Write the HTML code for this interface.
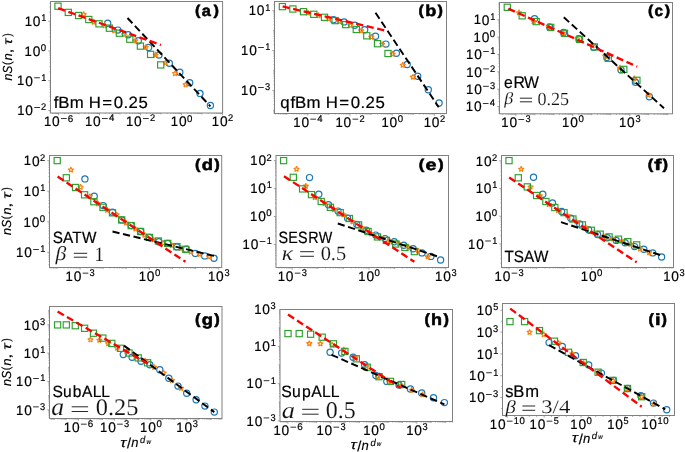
<!DOCTYPE html>
<html><head><meta charset="utf-8"><style>
html,body{margin:0;padding:0;background:#fff;}
body{width:685px;height:452px;overflow:hidden;}
svg{display:block;}
.t{opacity:0.999;}
text{white-space:pre;text-rendering:geometricPrecision;}
</style></head><body>
<svg xmlns="http://www.w3.org/2000/svg" width="685" height="452" viewBox="0 0 685 452" style="will-change:transform">
<rect x="0" y="0" width="685" height="452" fill="#fff"/>
<svg x="50.5" y="1.5" width="172.1" height="111.5" viewBox="50.5 1.5 172.1 111.5" overflow="hidden">
<g fill="none" stroke="#1f77b4" stroke-width="1.2"><circle cx="107.70" cy="23.30" r="3.10"/><circle cx="117.90" cy="30.10" r="3.10"/><circle cx="128.20" cy="34.80" r="3.10"/><circle cx="138.30" cy="40.70" r="3.10"/><circle cx="148.60" cy="47.40" r="3.10"/><circle cx="159.00" cy="55.10" r="3.10"/><circle cx="169.30" cy="63.20" r="3.10"/><circle cx="179.80" cy="72.30" r="3.10"/><circle cx="189.70" cy="82.80" r="3.10"/><circle cx="200.00" cy="93.40" r="3.10"/><circle cx="210.40" cy="105.50" r="3.10"/></g>
<g fill="none" stroke="#ff7f0e" stroke-width="1.15" stroke-linejoin="bevel"><polygon points="83.70,11.48 84.41,13.41 86.46,13.48 84.84,14.75 85.40,16.72 83.70,15.58 82.00,16.72 82.56,14.75 80.94,13.48 82.99,13.41"/><polygon points="93.90,19.18 94.61,21.11 96.66,21.18 95.04,22.45 95.60,24.42 93.90,23.28 92.20,24.42 92.76,22.45 91.14,21.18 93.19,21.11"/><polygon points="104.60,22.78 105.31,24.71 107.36,24.78 105.74,26.05 106.30,28.02 104.60,26.88 102.90,28.02 103.46,26.05 101.84,24.78 103.89,24.71"/><polygon points="114.30,27.68 115.01,29.61 117.06,29.68 115.44,30.95 116.00,32.92 114.30,31.78 112.60,32.92 113.16,30.95 111.54,29.68 113.59,29.61"/><polygon points="124.20,31.78 124.91,33.71 126.96,33.78 125.34,35.05 125.90,37.02 124.20,35.88 122.50,37.02 123.06,35.05 121.44,33.78 123.49,33.71"/><polygon points="135.30,37.88 136.01,39.81 138.06,39.88 136.44,41.15 137.00,43.12 135.30,41.98 133.60,43.12 134.16,41.15 132.54,39.88 134.59,39.81"/><polygon points="145.80,44.38 146.51,46.31 148.56,46.38 146.94,47.65 147.50,49.62 145.80,48.48 144.10,49.62 144.66,47.65 143.04,46.38 145.09,46.31"/><polygon points="155.70,51.98 156.41,53.91 158.46,53.98 156.84,55.25 157.40,57.22 155.70,56.08 154.00,57.22 154.56,55.25 152.94,53.98 154.99,53.91"/><polygon points="165.70,59.78 166.41,61.71 168.46,61.78 166.84,63.05 167.40,65.02 165.70,63.88 164.00,65.02 164.56,63.05 162.94,61.78 164.99,61.71"/><polygon points="175.10,70.58 175.81,72.51 177.86,72.58 176.24,73.85 176.80,75.82 175.10,74.68 173.40,75.82 173.96,73.85 172.34,72.58 174.39,72.51"/><polygon points="185.60,81.78 186.31,83.71 188.36,83.78 186.74,85.05 187.30,87.02 185.60,85.88 183.90,87.02 184.46,85.05 182.84,83.78 184.89,83.71"/></g>
<g fill="none" stroke="#2ca02c" stroke-width="1.15"><rect x="54.90" y="3.10" width="6.20" height="6.20"/><rect x="65.20" y="9.30" width="6.20" height="6.20"/><rect x="75.50" y="12.40" width="6.20" height="6.20"/><rect x="85.70" y="16.40" width="6.20" height="6.20"/><rect x="95.90" y="20.70" width="6.20" height="6.20"/><rect x="106.30" y="25.10" width="6.20" height="6.20"/><rect x="116.30" y="30.10" width="6.20" height="6.20"/><rect x="126.70" y="36.10" width="6.20" height="6.20"/><rect x="137.30" y="43.00" width="6.20" height="6.20"/><rect x="147.50" y="51.30" width="6.20" height="6.20"/><rect x="157.60" y="61.80" width="6.20" height="6.20"/></g>
<line x1="127.5" y1="18.0" x2="210.4" y2="106.3" stroke="#000" stroke-width="1.95" stroke-dasharray="7.2 3.6"/>
<line x1="58.2" y1="8.2" x2="161" y2="45" stroke="#ff0000" stroke-width="2.35" stroke-dasharray="7.2 3.6"/>
</svg>
<rect x="50.5" y="1.5" width="172.10" height="111.50" fill="none" stroke="#808080" stroke-width="1.0"/>
<path d="M52.33,113.00v1.0M53.95,113.00v1.0M55.32,113.00v1.0M56.51,113.00v1.0M57.56,113.00v1.0M58.50,113.00v2.2M64.67,113.00v1.0M68.28,113.00v1.0M70.84,113.00v1.0M72.83,113.00v1.0M74.45,113.00v1.0M75.82,113.00v1.0M77.01,113.00v1.0M78.06,113.00v1.0M79.00,113.00v1.4M85.17,113.00v1.0M88.78,113.00v1.0M91.34,113.00v1.0M93.33,113.00v1.0M94.95,113.00v1.0M96.32,113.00v1.0M97.51,113.00v1.0M98.56,113.00v1.0M99.50,113.00v2.2M105.67,113.00v1.0M109.28,113.00v1.0M111.84,113.00v1.0M113.83,113.00v1.0M115.45,113.00v1.0M116.82,113.00v1.0M118.01,113.00v1.0M119.06,113.00v1.0M120.00,113.00v1.4M126.17,113.00v1.0M129.78,113.00v1.0M132.34,113.00v1.0M134.33,113.00v1.0M135.95,113.00v1.0M137.32,113.00v1.0M138.51,113.00v1.0M139.56,113.00v1.0M140.50,113.00v2.2M146.67,113.00v1.0M150.28,113.00v1.0M152.84,113.00v1.0M154.83,113.00v1.0M156.45,113.00v1.0M157.82,113.00v1.0M159.01,113.00v1.0M160.06,113.00v1.0M161.00,113.00v1.4M167.17,113.00v1.0M170.78,113.00v1.0M173.34,113.00v1.0M175.33,113.00v1.0M176.95,113.00v1.0M178.32,113.00v1.0M179.51,113.00v1.0M180.56,113.00v1.0M181.50,113.00v2.2M187.67,113.00v1.0M191.28,113.00v1.0M193.84,113.00v1.0M195.83,113.00v1.0M197.45,113.00v1.0M198.82,113.00v1.0M200.01,113.00v1.0M201.06,113.00v1.0M202.00,113.00v1.4M208.17,113.00v1.0M211.78,113.00v1.0M214.34,113.00v1.0M216.33,113.00v1.0M217.95,113.00v1.0M219.32,113.00v1.0M220.51,113.00v1.0M221.56,113.00v1.0M222.50,113.00v2.2M50.50,111.82h-1.0M50.50,110.46h-2.2M50.50,101.51h-1.0M50.50,96.28h-1.0M50.50,92.56h-1.0M50.50,89.68h-1.0M50.50,87.33h-1.0M50.50,85.34h-1.0M50.50,83.61h-1.0M50.50,82.09h-1.0M50.50,80.73h-2.2M50.50,71.78h-1.0M50.50,66.55h-1.0M50.50,62.83h-1.0M50.50,59.95h-1.0M50.50,57.60h-1.0M50.50,55.61h-1.0M50.50,53.88h-1.0M50.50,52.36h-1.0M50.50,51.00h-2.2M50.50,42.05h-1.0M50.50,36.82h-1.0M50.50,33.10h-1.0M50.50,30.22h-1.0M50.50,27.87h-1.0M50.50,25.88h-1.0M50.50,24.15h-1.0M50.50,22.63h-1.0M50.50,21.27h-2.2M50.50,12.32h-1.0M50.50,7.09h-1.0M50.50,3.37h-1.0" stroke="#808080" stroke-width="0.7" fill="none"/>
<text transform="translate(43.97,126.30) scale(0.9472,1)" style="font-family:'Liberation Sans', sans-serif;font-size:13.80px" fill="#000" stroke="#000" stroke-width="0.2">1</text><text transform="translate(52.09,126.36) scale(0.9878,1)" style="font-family:'Liberation Sans', sans-serif;font-size:13.92px" fill="#000" stroke="#000" stroke-width="0.2">0</text><rect x="61.02" y="118.23" width="5.71" height="0.80" fill="#000"/><text transform="translate(67.83,121.53) scale(1.0148,1)" style="font-family:'Liberation Sans', sans-serif;font-size:9.74px" fill="#000" stroke="#000" stroke-width="0.2">6</text>
<text transform="translate(84.97,126.30) scale(0.9472,1)" style="font-family:'Liberation Sans', sans-serif;font-size:13.80px" fill="#000" stroke="#000" stroke-width="0.2">1</text><text transform="translate(93.09,126.36) scale(0.9878,1)" style="font-family:'Liberation Sans', sans-serif;font-size:13.92px" fill="#000" stroke="#000" stroke-width="0.2">0</text><rect x="102.02" y="118.23" width="5.71" height="0.80" fill="#000"/><text transform="translate(108.91,121.49) scale(0.9931,1)" style="font-family:'Liberation Sans', sans-serif;font-size:9.66px" fill="#000" stroke="#000" stroke-width="0.2">4</text>
<text transform="translate(125.97,126.30) scale(0.9472,1)" style="font-family:'Liberation Sans', sans-serif;font-size:13.80px" fill="#000" stroke="#000" stroke-width="0.2">1</text><text transform="translate(134.09,126.36) scale(0.9878,1)" style="font-family:'Liberation Sans', sans-serif;font-size:13.92px" fill="#000" stroke="#000" stroke-width="0.2">0</text><rect x="143.02" y="118.23" width="5.71" height="0.80" fill="#000"/><text transform="translate(149.88,121.49) scale(0.9600,1)" style="font-family:'Liberation Sans', sans-serif;font-size:9.69px" fill="#000" stroke="#000" stroke-width="0.2">2</text>
<text transform="translate(170.78,126.30) scale(0.9472,1)" style="font-family:'Liberation Sans', sans-serif;font-size:13.80px" fill="#000" stroke="#000" stroke-width="0.2">1</text><text transform="translate(178.90,126.36) scale(0.9878,1)" style="font-family:'Liberation Sans', sans-serif;font-size:13.92px" fill="#000" stroke="#000" stroke-width="0.2">0</text><text transform="translate(187.08,121.53) scale(0.9878,1)" style="font-family:'Liberation Sans', sans-serif;font-size:9.74px" fill="#000" stroke="#000" stroke-width="0.2">0</text>
<text transform="translate(211.78,126.30) scale(0.9472,1)" style="font-family:'Liberation Sans', sans-serif;font-size:13.80px" fill="#000" stroke="#000" stroke-width="0.2">1</text><text transform="translate(219.90,126.36) scale(0.9878,1)" style="font-family:'Liberation Sans', sans-serif;font-size:13.92px" fill="#000" stroke="#000" stroke-width="0.2">0</text><text transform="translate(228.07,121.49) scale(0.9600,1)" style="font-family:'Liberation Sans', sans-serif;font-size:9.69px" fill="#000" stroke="#000" stroke-width="0.2">2</text>
<text transform="translate(24.75,26.02) scale(0.9472,1)" style="font-family:'Liberation Sans', sans-serif;font-size:13.80px" fill="#000" stroke="#000" stroke-width="0.2">1</text><text transform="translate(32.86,26.07) scale(0.9878,1)" style="font-family:'Liberation Sans', sans-serif;font-size:13.92px" fill="#000" stroke="#000" stroke-width="0.2">0</text><text transform="translate(41.16,21.21) scale(0.9472,1)" style="font-family:'Liberation Sans', sans-serif;font-size:9.66px" fill="#000" stroke="#000" stroke-width="0.2">1</text>
<text transform="translate(24.52,55.74) scale(0.9472,1)" style="font-family:'Liberation Sans', sans-serif;font-size:13.80px" fill="#000" stroke="#000" stroke-width="0.2">1</text><text transform="translate(32.64,55.80) scale(0.9878,1)" style="font-family:'Liberation Sans', sans-serif;font-size:13.92px" fill="#000" stroke="#000" stroke-width="0.2">0</text><text transform="translate(40.82,50.97) scale(0.9878,1)" style="font-family:'Liberation Sans', sans-serif;font-size:9.74px" fill="#000" stroke="#000" stroke-width="0.2">0</text>
<text transform="translate(17.12,85.48) scale(0.9472,1)" style="font-family:'Liberation Sans', sans-serif;font-size:13.80px" fill="#000" stroke="#000" stroke-width="0.2">1</text><text transform="translate(25.24,85.53) scale(0.9878,1)" style="font-family:'Liberation Sans', sans-serif;font-size:13.92px" fill="#000" stroke="#000" stroke-width="0.2">0</text><rect x="34.17" y="77.41" width="5.71" height="0.80" fill="#000"/><text transform="translate(41.16,80.67) scale(0.9472,1)" style="font-family:'Liberation Sans', sans-serif;font-size:9.66px" fill="#000" stroke="#000" stroke-width="0.2">1</text>
<text transform="translate(17.19,115.21) scale(0.9472,1)" style="font-family:'Liberation Sans', sans-serif;font-size:13.80px" fill="#000" stroke="#000" stroke-width="0.2">1</text><text transform="translate(25.31,115.26) scale(0.9878,1)" style="font-family:'Liberation Sans', sans-serif;font-size:13.92px" fill="#000" stroke="#000" stroke-width="0.2">0</text><rect x="34.24" y="107.14" width="5.71" height="0.80" fill="#000"/><text transform="translate(41.10,110.40) scale(0.9600,1)" style="font-family:'Liberation Sans', sans-serif;font-size:9.69px" fill="#000" stroke="#000" stroke-width="0.2">2</text>
<text transform="translate(53.15,107.80) scale(1.0254,1)" x="0.56 4.96 16.18 30.29 34.83 47.94 59.23 68.71 73.43 83.14" y="0" style="font-family:'Liberation Sans', sans-serif;font-size:16.36px" fill="#000" stroke="#000" stroke-width="0.2">fBm H=0.25</text>
<text transform="translate(194.99,14.84) scale(1.1406,1)" style="font-family:'Liberation Sans', sans-serif;font-size:14.26px;font-weight:bold" fill="#000" stroke="#000" stroke-width="0.55" stroke-linejoin="round">(</text><text transform="translate(201.82,15.92) scale(1.0434,1)" style="font-family:'Liberation Sans', sans-serif;font-size:15.69px;font-weight:bold" fill="#000" stroke="#000" stroke-width="0.55" stroke-linejoin="round">a</text><text transform="translate(213.46,14.84) scale(1.1508,1)" style="font-family:'Liberation Sans', sans-serif;font-size:14.26px;font-weight:bold" fill="#000" stroke="#000" stroke-width="0.55" stroke-linejoin="round">)</text>
<svg x="274.5" y="1.5" width="172.0" height="112.0" viewBox="274.5 1.5 172.0 112.0" overflow="hidden">
<g fill="none" stroke="#1f77b4" stroke-width="1.2"><circle cx="333.50" cy="19.70" r="3.10"/><circle cx="344.10" cy="21.90" r="3.10"/><circle cx="354.70" cy="25.20" r="3.10"/><circle cx="364.70" cy="29.80" r="3.10"/><circle cx="375.50" cy="36.30" r="3.10"/><circle cx="385.90" cy="44.10" r="3.10"/><circle cx="396.40" cy="53.20" r="3.10"/><circle cx="407.20" cy="64.50" r="3.10"/><circle cx="417.70" cy="76.20" r="3.10"/><circle cx="428.30" cy="89.80" r="3.10"/><circle cx="439.10" cy="103.00" r="3.10"/></g>
<g fill="none" stroke="#ff7f0e" stroke-width="1.15" stroke-linejoin="bevel"><polygon points="307.90,9.98 308.61,11.91 310.66,11.98 309.04,13.25 309.60,15.22 307.90,14.08 306.20,15.22 306.76,13.25 305.14,11.98 307.19,11.91"/><polygon points="318.50,12.68 319.21,14.61 321.26,14.68 319.64,15.95 320.20,17.92 318.50,16.78 316.80,17.92 317.36,15.95 315.74,14.68 317.79,14.61"/><polygon points="328.70,15.98 329.41,17.91 331.46,17.98 329.84,19.25 330.40,21.22 328.70,20.08 327.00,21.22 327.56,19.25 325.94,17.98 327.99,17.91"/><polygon points="339.00,18.58 339.71,20.51 341.76,20.58 340.14,21.85 340.70,23.82 339.00,22.68 337.30,23.82 337.86,21.85 336.24,20.58 338.29,20.51"/><polygon points="350.40,22.58 351.11,24.51 353.16,24.58 351.54,25.85 352.10,27.82 350.40,26.68 348.70,27.82 349.26,25.85 347.64,24.58 349.69,24.51"/><polygon points="361.20,27.88 361.91,29.81 363.96,29.88 362.34,31.15 362.90,33.12 361.20,31.98 359.50,33.12 360.06,31.15 358.44,29.88 360.49,29.81"/><polygon points="371.40,34.18 372.11,36.11 374.16,36.18 372.54,37.45 373.10,39.42 371.40,38.28 369.70,39.42 370.26,37.45 368.64,36.18 370.69,36.11"/><polygon points="382.20,41.58 382.91,43.51 384.96,43.58 383.34,44.85 383.90,46.82 382.20,45.68 380.50,46.82 381.06,44.85 379.44,43.58 381.49,43.51"/><polygon points="392.60,51.18 393.31,53.11 395.36,53.18 393.74,54.45 394.30,56.42 392.60,55.28 390.90,56.42 391.46,54.45 389.84,53.18 391.89,53.11"/><polygon points="402.80,62.28 403.51,64.21 405.56,64.28 403.94,65.55 404.50,67.52 402.80,66.38 401.10,67.52 401.66,65.55 400.04,64.28 402.09,64.21"/><polygon points="413.00,74.18 413.71,76.11 415.76,76.18 414.14,77.45 414.70,79.42 413.00,78.28 411.30,79.42 411.86,77.45 410.24,76.18 412.29,76.11"/></g>
<g fill="none" stroke="#2ca02c" stroke-width="1.15"><rect x="279.30" y="3.50" width="6.20" height="6.20"/><rect x="289.80" y="5.90" width="6.20" height="6.20"/><rect x="300.40" y="8.60" width="6.20" height="6.20"/><rect x="310.70" y="11.20" width="6.20" height="6.20"/><rect x="321.40" y="14.20" width="6.20" height="6.20"/><rect x="332.00" y="17.50" width="6.20" height="6.20"/><rect x="342.60" y="21.50" width="6.20" height="6.20"/><rect x="353.20" y="26.40" width="6.20" height="6.20"/><rect x="363.70" y="32.70" width="6.20" height="6.20"/><rect x="374.40" y="40.60" width="6.20" height="6.20"/><rect x="384.90" y="50.40" width="6.20" height="6.20"/></g>
<line x1="375.5" y1="12.8" x2="438.7" y2="107.2" stroke="#000" stroke-width="1.95" stroke-dasharray="7.2 3.6"/>
<line x1="282.6" y1="6.4" x2="386.2" y2="30.8" stroke="#ff0000" stroke-width="2.35" stroke-dasharray="7.2 3.6"/>
</svg>
<rect x="274.5" y="1.5" width="172.00" height="112.00" fill="none" stroke="#808080" stroke-width="1.0"/>
<path d="M275.67,113.50v1.0M278.30,113.50v1.0M280.35,113.50v1.0M282.02,113.50v1.0M283.43,113.50v1.0M284.66,113.50v1.0M285.73,113.50v1.0M286.70,113.50v1.4M293.05,113.50v1.0M296.77,113.50v1.0M299.40,113.50v1.0M301.45,113.50v1.0M303.12,113.50v1.0M304.53,113.50v1.0M305.76,113.50v1.0M306.83,113.50v1.0M307.80,113.50v2.2M314.15,113.50v1.0M317.87,113.50v1.0M320.50,113.50v1.0M322.55,113.50v1.0M324.22,113.50v1.0M325.63,113.50v1.0M326.86,113.50v1.0M327.93,113.50v1.0M328.90,113.50v1.4M335.25,113.50v1.0M338.97,113.50v1.0M341.60,113.50v1.0M343.65,113.50v1.0M345.32,113.50v1.0M346.73,113.50v1.0M347.96,113.50v1.0M349.03,113.50v1.0M350.00,113.50v2.2M356.35,113.50v1.0M360.07,113.50v1.0M362.70,113.50v1.0M364.75,113.50v1.0M366.42,113.50v1.0M367.83,113.50v1.0M369.06,113.50v1.0M370.13,113.50v1.0M371.10,113.50v1.4M377.45,113.50v1.0M381.17,113.50v1.0M383.80,113.50v1.0M385.85,113.50v1.0M387.52,113.50v1.0M388.93,113.50v1.0M390.16,113.50v1.0M391.23,113.50v1.0M392.20,113.50v2.2M398.55,113.50v1.0M402.27,113.50v1.0M404.90,113.50v1.0M406.95,113.50v1.0M408.62,113.50v1.0M410.03,113.50v1.0M411.26,113.50v1.0M412.33,113.50v1.0M413.30,113.50v1.4M419.65,113.50v1.0M423.37,113.50v1.0M426.00,113.50v1.0M428.05,113.50v1.0M429.72,113.50v1.0M431.13,113.50v1.0M432.36,113.50v1.0M433.43,113.50v1.0M434.40,113.50v2.2M440.75,113.50v1.0M444.47,113.50v1.0M274.50,113.44h-1.0M274.50,112.28h-1.0M274.50,111.26h-1.0M274.50,110.35h-1.4M274.50,104.34h-1.0M274.50,100.83h-1.0M274.50,98.34h-1.0M274.50,96.41h-1.0M274.50,94.83h-1.0M274.50,93.49h-1.0M274.50,92.33h-1.0M274.50,91.31h-1.0M274.50,90.40h-2.2M274.50,84.39h-1.0M274.50,80.88h-1.0M274.50,78.39h-1.0M274.50,76.46h-1.0M274.50,74.88h-1.0M274.50,73.54h-1.0M274.50,72.38h-1.0M274.50,71.36h-1.0M274.50,70.45h-1.4M274.50,64.44h-1.0M274.50,60.93h-1.0M274.50,58.44h-1.0M274.50,56.51h-1.0M274.50,54.93h-1.0M274.50,53.59h-1.0M274.50,52.43h-1.0M274.50,51.41h-1.0M274.50,50.50h-2.2M274.50,44.49h-1.0M274.50,40.98h-1.0M274.50,38.49h-1.0M274.50,36.56h-1.0M274.50,34.98h-1.0M274.50,33.64h-1.0M274.50,32.48h-1.0M274.50,31.46h-1.0M274.50,30.55h-1.4M274.50,24.54h-1.0M274.50,21.03h-1.0M274.50,18.54h-1.0M274.50,16.61h-1.0M274.50,15.03h-1.0M274.50,13.69h-1.0M274.50,12.53h-1.0M274.50,11.51h-1.0M274.50,10.60h-2.2M274.50,4.59h-1.0" stroke="#808080" stroke-width="0.7" fill="none"/>
<text transform="translate(293.27,126.80) scale(0.9472,1)" style="font-family:'Liberation Sans', sans-serif;font-size:13.80px" fill="#000" stroke="#000" stroke-width="0.2">1</text><text transform="translate(301.39,126.86) scale(0.9878,1)" style="font-family:'Liberation Sans', sans-serif;font-size:13.92px" fill="#000" stroke="#000" stroke-width="0.2">0</text><rect x="310.32" y="118.73" width="5.71" height="0.80" fill="#000"/><text transform="translate(317.21,121.99) scale(0.9931,1)" style="font-family:'Liberation Sans', sans-serif;font-size:9.66px" fill="#000" stroke="#000" stroke-width="0.2">4</text>
<text transform="translate(335.47,126.80) scale(0.9472,1)" style="font-family:'Liberation Sans', sans-serif;font-size:13.80px" fill="#000" stroke="#000" stroke-width="0.2">1</text><text transform="translate(343.59,126.86) scale(0.9878,1)" style="font-family:'Liberation Sans', sans-serif;font-size:13.92px" fill="#000" stroke="#000" stroke-width="0.2">0</text><rect x="352.52" y="118.73" width="5.71" height="0.80" fill="#000"/><text transform="translate(359.38,121.99) scale(0.9600,1)" style="font-family:'Liberation Sans', sans-serif;font-size:9.69px" fill="#000" stroke="#000" stroke-width="0.2">2</text>
<text transform="translate(381.48,126.80) scale(0.9472,1)" style="font-family:'Liberation Sans', sans-serif;font-size:13.80px" fill="#000" stroke="#000" stroke-width="0.2">1</text><text transform="translate(389.60,126.86) scale(0.9878,1)" style="font-family:'Liberation Sans', sans-serif;font-size:13.92px" fill="#000" stroke="#000" stroke-width="0.2">0</text><text transform="translate(397.78,122.03) scale(0.9878,1)" style="font-family:'Liberation Sans', sans-serif;font-size:9.74px" fill="#000" stroke="#000" stroke-width="0.2">0</text>
<text transform="translate(423.68,126.80) scale(0.9472,1)" style="font-family:'Liberation Sans', sans-serif;font-size:13.80px" fill="#000" stroke="#000" stroke-width="0.2">1</text><text transform="translate(431.80,126.86) scale(0.9878,1)" style="font-family:'Liberation Sans', sans-serif;font-size:13.92px" fill="#000" stroke="#000" stroke-width="0.2">0</text><text transform="translate(439.97,121.99) scale(0.9600,1)" style="font-family:'Liberation Sans', sans-serif;font-size:9.69px" fill="#000" stroke="#000" stroke-width="0.2">2</text>
<text transform="translate(248.75,15.35) scale(0.9472,1)" style="font-family:'Liberation Sans', sans-serif;font-size:13.80px" fill="#000" stroke="#000" stroke-width="0.2">1</text><text transform="translate(256.86,15.40) scale(0.9878,1)" style="font-family:'Liberation Sans', sans-serif;font-size:13.92px" fill="#000" stroke="#000" stroke-width="0.2">0</text><text transform="translate(265.16,10.54) scale(0.9472,1)" style="font-family:'Liberation Sans', sans-serif;font-size:9.66px" fill="#000" stroke="#000" stroke-width="0.2">1</text>
<text transform="translate(241.12,55.24) scale(0.9472,1)" style="font-family:'Liberation Sans', sans-serif;font-size:13.80px" fill="#000" stroke="#000" stroke-width="0.2">1</text><text transform="translate(249.24,55.30) scale(0.9878,1)" style="font-family:'Liberation Sans', sans-serif;font-size:13.92px" fill="#000" stroke="#000" stroke-width="0.2">0</text><rect x="258.17" y="47.18" width="5.71" height="0.80" fill="#000"/><text transform="translate(265.16,50.43) scale(0.9472,1)" style="font-family:'Liberation Sans', sans-serif;font-size:9.66px" fill="#000" stroke="#000" stroke-width="0.2">1</text>
<text transform="translate(241.01,95.14) scale(0.9472,1)" style="font-family:'Liberation Sans', sans-serif;font-size:13.80px" fill="#000" stroke="#000" stroke-width="0.2">1</text><text transform="translate(249.13,95.20) scale(0.9878,1)" style="font-family:'Liberation Sans', sans-serif;font-size:13.92px" fill="#000" stroke="#000" stroke-width="0.2">0</text><rect x="258.06" y="87.08" width="5.71" height="0.80" fill="#000"/><text transform="translate(265.06,90.37) scale(0.9487,1)" style="font-family:'Liberation Sans', sans-serif;font-size:9.74px" fill="#000" stroke="#000" stroke-width="0.2">3</text>
<text transform="translate(280.05,107.80) scale(1.0256,1)" x="0.14 10.15 14.57 25.83 40.00 44.55 57.71 69.04 78.56 83.29 93.04" y="0" style="font-family:'Liberation Sans', sans-serif;font-size:16.42px" fill="#000" stroke="#000" stroke-width="0.2">qfBm H=0.25</text>
<text transform="translate(418.50,14.84) scale(1.1284,1)" style="font-family:'Liberation Sans', sans-serif;font-size:14.26px;font-weight:bold" fill="#000" stroke="#000" stroke-width="0.55" stroke-linejoin="round">(</text><text transform="translate(425.19,15.92) scale(1.1476,1)" style="font-family:'Liberation Sans', sans-serif;font-size:15.76px;font-weight:bold" fill="#000" stroke="#000" stroke-width="0.55" stroke-linejoin="round">b</text><text transform="translate(437.41,14.84) scale(1.1385,1)" style="font-family:'Liberation Sans', sans-serif;font-size:14.26px;font-weight:bold" fill="#000" stroke="#000" stroke-width="0.55" stroke-linejoin="round">)</text>
<svg x="499.5" y="2.5" width="173.0" height="111.3" viewBox="499.5 2.5 173.0 111.3" overflow="hidden">
<g fill="none" stroke="#1f77b4" stroke-width="1.2"><circle cx="534.60" cy="18.70" r="3.10"/><circle cx="549.60" cy="27.00" r="3.10"/><circle cx="563.50" cy="32.40" r="3.10"/><circle cx="578.80" cy="38.70" r="3.10"/><circle cx="593.80" cy="47.20" r="3.10"/><circle cx="606.70" cy="57.50" r="3.10"/><circle cx="621.00" cy="69.90" r="3.10"/><circle cx="635.40" cy="82.30" r="3.10"/><circle cx="649.30" cy="96.70" r="3.10"/></g>
<g fill="none" stroke="#ff7f0e" stroke-width="1.15" stroke-linejoin="bevel"><polygon points="519.00,9.78 519.71,11.71 521.76,11.78 520.14,13.05 520.70,15.02 519.00,13.88 517.30,15.02 517.86,13.05 516.24,11.78 518.29,11.71"/><polygon points="533.60,18.58 534.31,20.51 536.36,20.58 534.74,21.85 535.30,23.82 533.60,22.68 531.90,23.82 532.46,21.85 530.84,20.58 532.89,20.51"/><polygon points="548.90,24.38 549.61,26.31 551.66,26.38 550.04,27.65 550.60,29.62 548.90,28.48 547.20,29.62 547.76,27.65 546.14,26.38 548.19,26.31"/><polygon points="562.80,30.18 563.51,32.11 565.56,32.18 563.94,33.45 564.50,35.42 562.80,34.28 561.10,35.42 561.66,33.45 560.04,32.18 562.09,32.11"/><polygon points="577.40,36.08 578.11,38.01 580.16,38.08 578.54,39.35 579.10,41.32 577.40,40.18 575.70,41.32 576.26,39.35 574.64,38.08 576.69,38.01"/><polygon points="592.50,42.88 593.21,44.81 595.26,44.88 593.64,46.15 594.20,48.12 592.50,46.98 590.80,48.12 591.36,46.15 589.74,44.88 591.79,44.81"/><polygon points="605.20,53.28 605.91,55.21 607.96,55.28 606.34,56.55 606.90,58.52 605.20,57.38 603.50,58.52 604.06,56.55 602.44,55.28 604.49,55.21"/><polygon points="619.90,64.98 620.61,66.91 622.66,66.98 621.04,68.25 621.60,70.22 619.90,69.08 618.20,70.22 618.76,68.25 617.14,66.98 619.19,66.91"/><polygon points="634.30,75.78 635.01,77.71 637.06,77.78 635.44,79.05 636.00,81.02 634.30,79.88 632.60,81.02 633.16,79.05 631.54,77.78 633.59,77.71"/><polygon points="648.60,92.08 649.31,94.01 651.36,94.08 649.74,95.35 650.30,97.32 648.60,96.18 646.90,97.32 647.46,95.35 645.84,94.08 647.89,94.01"/></g>
<g fill="none" stroke="#2ca02c" stroke-width="1.15"><rect x="504.20" y="4.20" width="6.20" height="6.20"/><rect x="519.10" y="12.70" width="6.20" height="6.20"/><rect x="533.10" y="18.50" width="6.20" height="6.20"/><rect x="547.60" y="24.30" width="6.20" height="6.20"/><rect x="561.40" y="30.20" width="6.20" height="6.20"/><rect x="576.50" y="36.30" width="6.20" height="6.20"/><rect x="591.20" y="43.80" width="6.20" height="6.20"/><rect x="605.20" y="55.20" width="6.20" height="6.20"/><rect x="620.70" y="66.30" width="6.20" height="6.20"/><rect x="633.80" y="77.20" width="6.20" height="6.20"/></g>
<line x1="563.8" y1="17.3" x2="664.0" y2="108.2" stroke="#000" stroke-width="1.95" stroke-dasharray="7.2 3.6"/>
<line x1="508.3" y1="8.6" x2="637.1" y2="66.6" stroke="#ff0000" stroke-width="2.35" stroke-dasharray="7.2 3.6"/>
</svg>
<rect x="499.5" y="2.5" width="173.00" height="111.30" fill="none" stroke="#808080" stroke-width="1.0"/>
<path d="M502.63,113.80v1.0M505.97,113.80v1.0M508.34,113.80v1.0M510.18,113.80v1.0M511.68,113.80v1.0M512.95,113.80v1.0M514.05,113.80v1.0M515.02,113.80v1.0M515.89,113.80v2.2M521.60,113.80v1.0M524.94,113.80v1.0M527.31,113.80v1.0M529.15,113.80v1.0M530.65,113.80v1.0M531.92,113.80v1.0M533.02,113.80v1.0M533.99,113.80v1.0M534.86,113.80v1.4M540.57,113.80v1.0M543.91,113.80v1.0M546.28,113.80v1.0M548.12,113.80v1.0M549.62,113.80v1.0M550.89,113.80v1.0M551.99,113.80v1.0M552.96,113.80v1.0M553.83,113.80v1.4M559.54,113.80v1.0M562.88,113.80v1.0M565.25,113.80v1.0M567.09,113.80v1.0M568.59,113.80v1.0M569.86,113.80v1.0M570.96,113.80v1.0M571.93,113.80v1.0M572.80,113.80v2.2M578.51,113.80v1.0M581.85,113.80v1.0M584.22,113.80v1.0M586.06,113.80v1.0M587.56,113.80v1.0M588.83,113.80v1.0M589.93,113.80v1.0M590.90,113.80v1.0M591.77,113.80v1.4M597.48,113.80v1.0M600.82,113.80v1.0M603.19,113.80v1.0M605.03,113.80v1.0M606.53,113.80v1.0M607.80,113.80v1.0M608.90,113.80v1.0M609.87,113.80v1.0M610.74,113.80v1.4M616.45,113.80v1.0M619.79,113.80v1.0M622.16,113.80v1.0M624.00,113.80v1.0M625.50,113.80v1.0M626.77,113.80v1.0M627.87,113.80v1.0M628.84,113.80v1.0M629.71,113.80v2.2M635.42,113.80v1.0M638.76,113.80v1.0M641.13,113.80v1.0M642.97,113.80v1.0M644.47,113.80v1.0M645.74,113.80v1.0M646.84,113.80v1.0M647.81,113.80v1.0M648.68,113.80v1.4M654.39,113.80v1.0M657.73,113.80v1.0M660.10,113.80v1.0M661.94,113.80v1.0M663.44,113.80v1.0M664.71,113.80v1.0M665.81,113.80v1.0M666.78,113.80v1.0M667.65,113.80v1.4M499.50,113.45h-1.0M499.50,111.77h-1.0M499.50,110.39h-1.0M499.50,109.23h-1.0M499.50,108.22h-1.0M499.50,107.33h-1.0M499.50,106.54h-2.2M499.50,101.31h-1.0M499.50,98.26h-1.0M499.50,96.09h-1.0M499.50,94.41h-1.0M499.50,93.03h-1.0M499.50,91.87h-1.0M499.50,90.86h-1.0M499.50,89.97h-1.0M499.50,89.18h-2.2M499.50,83.95h-1.0M499.50,80.90h-1.0M499.50,78.73h-1.0M499.50,77.05h-1.0M499.50,75.67h-1.0M499.50,74.51h-1.0M499.50,73.50h-1.0M499.50,72.61h-1.0M499.50,71.82h-2.2M499.50,66.59h-1.0M499.50,63.54h-1.0M499.50,61.37h-1.0M499.50,59.69h-1.0M499.50,58.31h-1.0M499.50,57.15h-1.0M499.50,56.14h-1.0M499.50,55.25h-1.0M499.50,54.46h-2.2M499.50,49.23h-1.0M499.50,46.18h-1.0M499.50,44.01h-1.0M499.50,42.33h-1.0M499.50,40.95h-1.0M499.50,39.79h-1.0M499.50,38.78h-1.0M499.50,37.89h-1.0M499.50,37.10h-2.2M499.50,31.87h-1.0M499.50,28.82h-1.0M499.50,26.65h-1.0M499.50,24.97h-1.0M499.50,23.59h-1.0M499.50,22.43h-1.0M499.50,21.42h-1.0M499.50,20.53h-1.0M499.50,19.74h-2.2M499.50,14.51h-1.0M499.50,11.46h-1.0M499.50,9.29h-1.0M499.50,7.61h-1.0M499.50,6.23h-1.0M499.50,5.07h-1.0M499.50,4.06h-1.0M499.50,3.17h-1.0" stroke="#808080" stroke-width="0.7" fill="none"/>
<text transform="translate(501.36,127.10) scale(0.9472,1)" style="font-family:'Liberation Sans', sans-serif;font-size:13.80px" fill="#000" stroke="#000" stroke-width="0.2">1</text><text transform="translate(509.48,127.16) scale(0.9878,1)" style="font-family:'Liberation Sans', sans-serif;font-size:13.92px" fill="#000" stroke="#000" stroke-width="0.2">0</text><rect x="518.41" y="119.03" width="5.71" height="0.80" fill="#000"/><text transform="translate(525.41,122.33) scale(0.9487,1)" style="font-family:'Liberation Sans', sans-serif;font-size:9.74px" fill="#000" stroke="#000" stroke-width="0.2">3</text>
<text transform="translate(562.08,127.10) scale(0.9472,1)" style="font-family:'Liberation Sans', sans-serif;font-size:13.80px" fill="#000" stroke="#000" stroke-width="0.2">1</text><text transform="translate(570.20,127.16) scale(0.9878,1)" style="font-family:'Liberation Sans', sans-serif;font-size:13.92px" fill="#000" stroke="#000" stroke-width="0.2">0</text><text transform="translate(578.38,122.33) scale(0.9878,1)" style="font-family:'Liberation Sans', sans-serif;font-size:9.74px" fill="#000" stroke="#000" stroke-width="0.2">0</text>
<text transform="translate(618.99,127.10) scale(0.9472,1)" style="font-family:'Liberation Sans', sans-serif;font-size:13.80px" fill="#000" stroke="#000" stroke-width="0.2">1</text><text transform="translate(627.11,127.16) scale(0.9878,1)" style="font-family:'Liberation Sans', sans-serif;font-size:13.92px" fill="#000" stroke="#000" stroke-width="0.2">0</text><text transform="translate(635.42,122.33) scale(0.9487,1)" style="font-family:'Liberation Sans', sans-serif;font-size:9.74px" fill="#000" stroke="#000" stroke-width="0.2">3</text>
<text transform="translate(473.75,24.49) scale(0.9472,1)" style="font-family:'Liberation Sans', sans-serif;font-size:13.80px" fill="#000" stroke="#000" stroke-width="0.2">1</text><text transform="translate(481.86,24.54) scale(0.9878,1)" style="font-family:'Liberation Sans', sans-serif;font-size:13.92px" fill="#000" stroke="#000" stroke-width="0.2">0</text><text transform="translate(490.16,19.68) scale(0.9472,1)" style="font-family:'Liberation Sans', sans-serif;font-size:9.66px" fill="#000" stroke="#000" stroke-width="0.2">1</text>
<text transform="translate(473.52,41.84) scale(0.9472,1)" style="font-family:'Liberation Sans', sans-serif;font-size:13.80px" fill="#000" stroke="#000" stroke-width="0.2">1</text><text transform="translate(481.64,41.90) scale(0.9878,1)" style="font-family:'Liberation Sans', sans-serif;font-size:13.92px" fill="#000" stroke="#000" stroke-width="0.2">0</text><text transform="translate(489.82,37.07) scale(0.9878,1)" style="font-family:'Liberation Sans', sans-serif;font-size:9.74px" fill="#000" stroke="#000" stroke-width="0.2">0</text>
<text transform="translate(466.12,59.20) scale(0.9472,1)" style="font-family:'Liberation Sans', sans-serif;font-size:13.80px" fill="#000" stroke="#000" stroke-width="0.2">1</text><text transform="translate(474.24,59.26) scale(0.9878,1)" style="font-family:'Liberation Sans', sans-serif;font-size:13.92px" fill="#000" stroke="#000" stroke-width="0.2">0</text><rect x="483.17" y="51.14" width="5.71" height="0.80" fill="#000"/><text transform="translate(490.16,54.39) scale(0.9472,1)" style="font-family:'Liberation Sans', sans-serif;font-size:9.66px" fill="#000" stroke="#000" stroke-width="0.2">1</text>
<text transform="translate(466.19,76.56) scale(0.9472,1)" style="font-family:'Liberation Sans', sans-serif;font-size:13.80px" fill="#000" stroke="#000" stroke-width="0.2">1</text><text transform="translate(474.31,76.62) scale(0.9878,1)" style="font-family:'Liberation Sans', sans-serif;font-size:13.92px" fill="#000" stroke="#000" stroke-width="0.2">0</text><rect x="483.24" y="68.50" width="5.71" height="0.80" fill="#000"/><text transform="translate(490.10,71.75) scale(0.9600,1)" style="font-family:'Liberation Sans', sans-serif;font-size:9.69px" fill="#000" stroke="#000" stroke-width="0.2">2</text>
<text transform="translate(466.01,93.93) scale(0.9472,1)" style="font-family:'Liberation Sans', sans-serif;font-size:13.80px" fill="#000" stroke="#000" stroke-width="0.2">1</text><text transform="translate(474.13,93.98) scale(0.9878,1)" style="font-family:'Liberation Sans', sans-serif;font-size:13.92px" fill="#000" stroke="#000" stroke-width="0.2">0</text><rect x="483.06" y="85.86" width="5.71" height="0.80" fill="#000"/><text transform="translate(490.06,89.15) scale(0.9487,1)" style="font-family:'Liberation Sans', sans-serif;font-size:9.74px" fill="#000" stroke="#000" stroke-width="0.2">3</text>
<text transform="translate(465.80,111.28) scale(0.9472,1)" style="font-family:'Liberation Sans', sans-serif;font-size:13.80px" fill="#000" stroke="#000" stroke-width="0.2">1</text><text transform="translate(473.92,111.34) scale(0.9878,1)" style="font-family:'Liberation Sans', sans-serif;font-size:13.92px" fill="#000" stroke="#000" stroke-width="0.2">0</text><rect x="482.85" y="103.22" width="5.71" height="0.80" fill="#000"/><text transform="translate(489.74,106.47) scale(0.9931,1)" style="font-family:'Liberation Sans', sans-serif;font-size:9.66px" fill="#000" stroke="#000" stroke-width="0.2">4</text>
<text transform="translate(504.27,104.24) scale(1.0424,1)" style="font-family:'Liberation Serif', serif;font-size:17.22px;font-style:italic" fill="#111" stroke="#fff" stroke-width="0.12">β</text>
<path d="M519.90,98.20H532.10M519.90,101.80H532.10" stroke="#111" stroke-width="0.9"/>
<text transform="translate(537.52,104.90) scale(0.9762,1)" style="font-family:'Liberation Serif', serif;font-size:18.50px" fill="#111" stroke="#fff" stroke-width="0.12">0.25</text>
<text transform="translate(503.63,88.20) scale(0.9438,1)" x="0.52 10.35 21.62" y="0" style="font-family:'Liberation Sans', sans-serif;font-size:16.75px" fill="#000" stroke="#000" stroke-width="0.2">eRW</text>
<text transform="translate(647.90,14.84) scale(1.1237,1)" style="font-family:'Liberation Sans', sans-serif;font-size:14.26px;font-weight:bold" fill="#000" stroke="#000" stroke-width="0.55" stroke-linejoin="round">(</text><text transform="translate(654.50,15.92) scale(0.9762,1)" style="font-family:'Liberation Sans', sans-serif;font-size:15.69px;font-weight:bold" fill="#000" stroke="#000" stroke-width="0.55" stroke-linejoin="round">c</text><text transform="translate(664.83,14.84) scale(1.1337,1)" style="font-family:'Liberation Sans', sans-serif;font-size:14.26px;font-weight:bold" fill="#000" stroke="#000" stroke-width="0.55" stroke-linejoin="round">)</text>
<svg x="49.5" y="155.5" width="172.2" height="112.0" viewBox="49.5 155.5 172.2 112.0" overflow="hidden">
<g fill="none" stroke="#1f77b4" stroke-width="1.2"><circle cx="84.90" cy="178.90" r="3.10"/><circle cx="94.20" cy="196.20" r="3.10"/><circle cx="103.20" cy="205.60" r="3.10"/><circle cx="112.50" cy="212.30" r="3.10"/><circle cx="121.70" cy="219.90" r="3.10"/><circle cx="131.20" cy="225.60" r="3.10"/><circle cx="140.60" cy="231.50" r="3.10"/><circle cx="149.50" cy="237.40" r="3.10"/><circle cx="158.80" cy="241.70" r="3.10"/><circle cx="167.70" cy="243.40" r="3.10"/><circle cx="176.90" cy="246.90" r="3.10"/><circle cx="186.20" cy="249.30" r="3.10"/><circle cx="195.30" cy="253.40" r="3.10"/><circle cx="204.70" cy="255.90" r="3.10"/><circle cx="214.00" cy="258.20" r="3.10"/></g>
<g fill="none" stroke="#ff7f0e" stroke-width="1.15" stroke-linejoin="bevel"><polygon points="70.90,166.98 71.61,168.91 73.66,168.98 72.04,170.25 72.60,172.22 70.90,171.08 69.20,172.22 69.76,170.25 68.14,168.98 70.19,168.91"/><polygon points="80.60,184.28 81.31,186.21 83.36,186.28 81.74,187.55 82.30,189.52 80.60,188.38 78.90,189.52 79.46,187.55 77.84,186.28 79.89,186.21"/><polygon points="89.90,193.58 90.61,195.51 92.66,195.58 91.04,196.85 91.60,198.82 89.90,197.68 88.20,198.82 88.76,196.85 87.14,195.58 89.19,195.51"/><polygon points="98.10,200.88 98.81,202.81 100.86,202.88 99.24,204.15 99.80,206.12 98.10,204.98 96.40,206.12 96.96,204.15 95.34,202.88 97.39,202.81"/><polygon points="107.20,207.18 107.91,209.11 109.96,209.18 108.34,210.45 108.90,212.42 107.20,211.28 105.50,212.42 106.06,210.45 104.44,209.18 106.49,209.11"/><polygon points="116.70,211.88 117.41,213.81 119.46,213.88 117.84,215.15 118.40,217.12 116.70,215.98 115.00,217.12 115.56,215.15 113.94,213.88 115.99,213.81"/><polygon points="126.00,219.98 126.71,221.91 128.76,221.98 127.14,223.25 127.70,225.22 126.00,224.08 124.30,225.22 124.86,223.25 123.24,221.98 125.29,221.91"/><polygon points="135.40,225.98 136.11,227.91 138.16,227.98 136.54,229.25 137.10,231.22 135.40,230.08 133.70,231.22 134.26,229.25 132.64,227.98 134.69,227.91"/><polygon points="144.50,232.18 145.21,234.11 147.26,234.18 145.64,235.45 146.20,237.42 144.50,236.28 142.80,237.42 143.36,235.45 141.74,234.18 143.79,234.11"/><polygon points="153.40,236.88 154.11,238.81 156.16,238.88 154.54,240.15 155.10,242.12 153.40,240.98 151.70,242.12 152.26,240.15 150.64,238.88 152.69,238.81"/><polygon points="163.20,240.08 163.91,242.01 165.96,242.08 164.34,243.35 164.90,245.32 163.20,244.18 161.50,245.32 162.06,243.35 160.44,242.08 162.49,242.01"/><polygon points="172.00,242.58 172.71,244.51 174.76,244.58 173.14,245.85 173.70,247.82 172.00,246.68 170.30,247.82 170.86,245.85 169.24,244.58 171.29,244.51"/><polygon points="181.00,245.48 181.71,247.41 183.76,247.48 182.14,248.75 182.70,250.72 181.00,249.58 179.30,250.72 179.86,248.75 178.24,247.48 180.29,247.41"/><polygon points="190.80,248.98 191.51,250.91 193.56,250.98 191.94,252.25 192.50,254.22 190.80,253.08 189.10,254.22 189.66,252.25 188.04,250.98 190.09,250.91"/><polygon points="199.70,251.18 200.41,253.11 202.46,253.18 200.84,254.45 201.40,256.42 199.70,255.28 198.00,256.42 198.56,254.45 196.94,253.18 198.99,253.11"/><polygon points="209.00,253.88 209.71,255.81 211.76,255.88 210.14,257.15 210.70,259.12 209.00,257.98 207.30,259.12 207.86,257.15 206.24,255.88 208.29,255.81"/></g>
<g fill="none" stroke="#2ca02c" stroke-width="1.15"><rect x="54.10" y="157.50" width="6.20" height="6.20"/><rect x="63.20" y="174.70" width="6.20" height="6.20"/><rect x="72.50" y="184.40" width="6.20" height="6.20"/><rect x="81.50" y="191.70" width="6.20" height="6.20"/><rect x="90.80" y="198.60" width="6.20" height="6.20"/><rect x="99.90" y="204.20" width="6.20" height="6.20"/><rect x="109.40" y="209.70" width="6.20" height="6.20"/><rect x="118.60" y="216.80" width="6.20" height="6.20"/><rect x="128.10" y="222.50" width="6.20" height="6.20"/><rect x="137.50" y="228.40" width="6.20" height="6.20"/><rect x="146.40" y="234.30" width="6.20" height="6.20"/><rect x="155.30" y="237.90" width="6.20" height="6.20"/><rect x="164.60" y="240.30" width="6.20" height="6.20"/><rect x="173.80" y="243.50" width="6.20" height="6.20"/><rect x="182.70" y="246.20" width="6.20" height="6.20"/></g>
<line x1="112.5" y1="231.5" x2="214.0" y2="255.9" stroke="#000" stroke-width="1.95" stroke-dasharray="7.2 3.6"/>
<line x1="57.6" y1="176.5" x2="185.5" y2="261.8" stroke="#ff0000" stroke-width="2.35" stroke-dasharray="7.2 3.6"/>
</svg>
<rect x="49.5" y="155.5" width="172.20" height="112.00" fill="none" stroke="#808080" stroke-width="1.0"/>
<path d="M50.05,267.50v1.0M51.88,267.50v1.0M53.42,267.50v1.0M54.76,267.50v1.0M55.94,267.50v1.0M57.00,267.50v1.4M63.95,267.50v1.0M68.02,267.50v1.0M70.91,267.50v1.0M73.15,267.50v1.0M74.98,267.50v1.0M76.52,267.50v1.0M77.86,267.50v1.0M79.04,267.50v1.0M80.10,267.50v2.2M87.05,267.50v1.0M91.12,267.50v1.0M94.01,267.50v1.0M96.25,267.50v1.0M98.08,267.50v1.0M99.62,267.50v1.0M100.96,267.50v1.0M102.14,267.50v1.0M103.20,267.50v1.4M110.15,267.50v1.0M114.22,267.50v1.0M117.11,267.50v1.0M119.35,267.50v1.0M121.18,267.50v1.0M122.72,267.50v1.0M124.06,267.50v1.0M125.24,267.50v1.0M126.30,267.50v1.4M133.25,267.50v1.0M137.32,267.50v1.0M140.21,267.50v1.0M142.45,267.50v1.0M144.28,267.50v1.0M145.82,267.50v1.0M147.16,267.50v1.0M148.34,267.50v1.0M149.40,267.50v2.2M156.35,267.50v1.0M160.42,267.50v1.0M163.31,267.50v1.0M165.55,267.50v1.0M167.38,267.50v1.0M168.92,267.50v1.0M170.26,267.50v1.0M171.44,267.50v1.0M172.50,267.50v1.4M179.45,267.50v1.0M183.52,267.50v1.0M186.41,267.50v1.0M188.65,267.50v1.0M190.48,267.50v1.0M192.02,267.50v1.0M193.36,267.50v1.0M194.54,267.50v1.0M195.60,267.50v1.4M202.55,267.50v1.0M206.62,267.50v1.0M209.51,267.50v1.0M211.75,267.50v1.0M213.58,267.50v1.0M215.12,267.50v1.0M216.46,267.50v1.0M217.64,267.50v1.0M218.70,267.50v2.2M49.50,264.51h-1.0M49.50,261.55h-1.0M49.50,259.13h-1.0M49.50,257.08h-1.0M49.50,255.31h-1.0M49.50,253.75h-1.0M49.50,252.35h-2.2M49.50,243.15h-1.0M49.50,237.77h-1.0M49.50,233.96h-1.0M49.50,231.00h-1.0M49.50,228.58h-1.0M49.50,226.53h-1.0M49.50,224.76h-1.0M49.50,223.20h-1.0M49.50,221.80h-2.2M49.50,212.60h-1.0M49.50,207.22h-1.0M49.50,203.41h-1.0M49.50,200.45h-1.0M49.50,198.03h-1.0M49.50,195.98h-1.0M49.50,194.21h-1.0M49.50,192.65h-1.0M49.50,191.25h-2.2M49.50,182.05h-1.0M49.50,176.67h-1.0M49.50,172.86h-1.0M49.50,169.90h-1.0M49.50,167.48h-1.0M49.50,165.43h-1.0M49.50,163.66h-1.0M49.50,162.10h-1.0M49.50,160.70h-2.2" stroke="#808080" stroke-width="0.7" fill="none"/>
<text transform="translate(65.57,280.80) scale(0.9472,1)" style="font-family:'Liberation Sans', sans-serif;font-size:13.80px" fill="#000" stroke="#000" stroke-width="0.2">1</text><text transform="translate(73.69,280.86) scale(0.9878,1)" style="font-family:'Liberation Sans', sans-serif;font-size:13.92px" fill="#000" stroke="#000" stroke-width="0.2">0</text><rect x="82.62" y="272.73" width="5.71" height="0.80" fill="#000"/><text transform="translate(89.62,276.03) scale(0.9487,1)" style="font-family:'Liberation Sans', sans-serif;font-size:9.74px" fill="#000" stroke="#000" stroke-width="0.2">3</text>
<text transform="translate(138.68,280.80) scale(0.9472,1)" style="font-family:'Liberation Sans', sans-serif;font-size:13.80px" fill="#000" stroke="#000" stroke-width="0.2">1</text><text transform="translate(146.80,280.86) scale(0.9878,1)" style="font-family:'Liberation Sans', sans-serif;font-size:13.92px" fill="#000" stroke="#000" stroke-width="0.2">0</text><text transform="translate(154.98,276.03) scale(0.9878,1)" style="font-family:'Liberation Sans', sans-serif;font-size:9.74px" fill="#000" stroke="#000" stroke-width="0.2">0</text>
<text transform="translate(207.98,280.80) scale(0.9472,1)" style="font-family:'Liberation Sans', sans-serif;font-size:13.80px" fill="#000" stroke="#000" stroke-width="0.2">1</text><text transform="translate(216.10,280.86) scale(0.9878,1)" style="font-family:'Liberation Sans', sans-serif;font-size:13.92px" fill="#000" stroke="#000" stroke-width="0.2">0</text><text transform="translate(224.41,276.03) scale(0.9487,1)" style="font-family:'Liberation Sans', sans-serif;font-size:9.74px" fill="#000" stroke="#000" stroke-width="0.2">3</text>
<text transform="translate(23.82,165.45) scale(0.9472,1)" style="font-family:'Liberation Sans', sans-serif;font-size:13.80px" fill="#000" stroke="#000" stroke-width="0.2">1</text><text transform="translate(31.93,165.50) scale(0.9878,1)" style="font-family:'Liberation Sans', sans-serif;font-size:13.92px" fill="#000" stroke="#000" stroke-width="0.2">0</text><text transform="translate(40.10,160.64) scale(0.9600,1)" style="font-family:'Liberation Sans', sans-serif;font-size:9.69px" fill="#000" stroke="#000" stroke-width="0.2">2</text>
<text transform="translate(23.75,196.00) scale(0.9472,1)" style="font-family:'Liberation Sans', sans-serif;font-size:13.80px" fill="#000" stroke="#000" stroke-width="0.2">1</text><text transform="translate(31.86,196.05) scale(0.9878,1)" style="font-family:'Liberation Sans', sans-serif;font-size:13.92px" fill="#000" stroke="#000" stroke-width="0.2">0</text><text transform="translate(40.16,191.19) scale(0.9472,1)" style="font-family:'Liberation Sans', sans-serif;font-size:9.66px" fill="#000" stroke="#000" stroke-width="0.2">1</text>
<text transform="translate(23.52,226.55) scale(0.9472,1)" style="font-family:'Liberation Sans', sans-serif;font-size:13.80px" fill="#000" stroke="#000" stroke-width="0.2">1</text><text transform="translate(31.64,226.60) scale(0.9878,1)" style="font-family:'Liberation Sans', sans-serif;font-size:13.92px" fill="#000" stroke="#000" stroke-width="0.2">0</text><text transform="translate(39.82,221.77) scale(0.9878,1)" style="font-family:'Liberation Sans', sans-serif;font-size:9.74px" fill="#000" stroke="#000" stroke-width="0.2">0</text>
<text transform="translate(16.12,257.10) scale(0.9472,1)" style="font-family:'Liberation Sans', sans-serif;font-size:13.80px" fill="#000" stroke="#000" stroke-width="0.2">1</text><text transform="translate(24.24,257.15) scale(0.9878,1)" style="font-family:'Liberation Sans', sans-serif;font-size:13.92px" fill="#000" stroke="#000" stroke-width="0.2">0</text><rect x="33.17" y="249.03" width="5.71" height="0.80" fill="#000"/><text transform="translate(40.16,252.29) scale(0.9472,1)" style="font-family:'Liberation Sans', sans-serif;font-size:9.66px" fill="#000" stroke="#000" stroke-width="0.2">1</text>
<text transform="translate(55.42,260.28) scale(1.0919,1)" style="font-family:'Liberation Serif', serif;font-size:19.84px;font-style:italic" fill="#111" stroke="#fff" stroke-width="0.12">β</text>
<path d="M73.80,253.30H87.20M73.80,257.20H87.20" stroke="#111" stroke-width="0.9"/>
<text transform="translate(94.26,261.00) scale(0.9637,1)" style="font-family:'Liberation Serif', serif;font-size:20.61px" fill="#111" stroke="#fff" stroke-width="0.12">1</text>
<text transform="translate(52.80,242.50) scale(0.9377,1)" x="-0.15 10.91 20.78 31.18" y="0" style="font-family:'Liberation Sans', sans-serif;font-size:16.35px" fill="#000" stroke="#000" stroke-width="0.2">SATW</text>
<text transform="translate(194.98,169.14) scale(1.1483,1)" style="font-family:'Liberation Sans', sans-serif;font-size:14.26px;font-weight:bold" fill="#000" stroke="#000" stroke-width="0.55" stroke-linejoin="round">(</text><text transform="translate(201.66,170.22) scale(1.1679,1)" style="font-family:'Liberation Sans', sans-serif;font-size:15.76px;font-weight:bold" fill="#000" stroke="#000" stroke-width="0.55" stroke-linejoin="round">d</text><text transform="translate(214.23,169.14) scale(1.1586,1)" style="font-family:'Liberation Sans', sans-serif;font-size:14.26px;font-weight:bold" fill="#000" stroke="#000" stroke-width="0.55" stroke-linejoin="round">)</text>
<svg x="276.0" y="155.5" width="172.5" height="112.0" viewBox="276.0 155.5 172.5 112.0" overflow="hidden">
<g fill="none" stroke="#1f77b4" stroke-width="1.2"><circle cx="309.50" cy="177.60" r="3.10"/><circle cx="318.80" cy="194.20" r="3.10"/><circle cx="328.50" cy="204.80" r="3.10"/><circle cx="338.00" cy="211.10" r="3.10"/><circle cx="347.60" cy="218.20" r="3.10"/><circle cx="356.90" cy="224.40" r="3.10"/><circle cx="366.30" cy="230.30" r="3.10"/><circle cx="375.70" cy="235.10" r="3.10"/><circle cx="385.00" cy="238.60" r="3.10"/><circle cx="394.20" cy="241.70" r="3.10"/><circle cx="403.70" cy="245.20" r="3.10"/><circle cx="413.10" cy="248.80" r="3.10"/><circle cx="422.00" cy="252.90" r="3.10"/><circle cx="430.90" cy="256.40" r="3.10"/><circle cx="440.60" cy="260.00" r="3.10"/></g>
<g fill="none" stroke="#ff7f0e" stroke-width="1.15" stroke-linejoin="bevel"><polygon points="296.50,166.28 297.21,168.21 299.26,168.28 297.64,169.55 298.20,171.52 296.50,170.38 294.80,171.52 295.36,169.55 293.74,168.28 295.79,168.21"/><polygon points="305.80,183.18 306.51,185.11 308.56,185.18 306.94,186.45 307.50,188.42 305.80,187.28 304.10,188.42 304.66,186.45 303.04,185.18 305.09,185.11"/><polygon points="314.80,194.58 315.51,196.51 317.56,196.58 315.94,197.85 316.50,199.82 314.80,198.68 313.10,199.82 313.66,197.85 312.04,196.58 314.09,196.51"/><polygon points="324.80,200.48 325.51,202.41 327.56,202.48 325.94,203.75 326.50,205.72 324.80,204.58 323.10,205.72 323.66,203.75 322.04,202.48 324.09,202.41"/><polygon points="334.10,206.78 334.81,208.71 336.86,208.78 335.24,210.05 335.80,212.02 334.10,210.88 332.40,212.02 332.96,210.05 331.34,208.78 333.39,208.71"/><polygon points="343.50,211.88 344.21,213.81 346.26,213.88 344.64,215.15 345.20,217.12 343.50,215.98 341.80,217.12 342.36,215.15 340.74,213.88 342.79,213.81"/><polygon points="352.50,218.88 353.21,220.81 355.26,220.88 353.64,222.15 354.20,224.12 352.50,222.98 350.80,224.12 351.36,222.15 349.74,220.88 351.79,220.81"/><polygon points="361.80,224.88 362.51,226.81 364.56,226.88 362.94,228.15 363.50,230.12 361.80,228.98 360.10,230.12 360.66,228.15 359.04,226.88 361.09,226.81"/><polygon points="371.00,230.88 371.71,232.81 373.76,232.88 372.14,234.15 372.70,236.12 371.00,234.98 369.30,236.12 369.86,234.15 368.24,232.88 370.29,232.81"/><polygon points="380.50,234.88 381.21,236.81 383.26,236.88 381.64,238.15 382.20,240.12 380.50,238.98 378.80,240.12 379.36,238.15 377.74,236.88 379.79,236.81"/><polygon points="389.50,237.88 390.21,239.81 392.26,239.88 390.64,241.15 391.20,243.12 389.50,241.98 387.80,243.12 388.36,241.15 386.74,239.88 388.79,239.81"/><polygon points="399.00,240.88 399.71,242.81 401.76,242.88 400.14,244.15 400.70,246.12 399.00,244.98 397.30,246.12 397.86,244.15 396.24,242.88 398.29,242.81"/><polygon points="408.50,244.38 409.21,246.31 411.26,246.38 409.64,247.65 410.20,249.62 408.50,248.48 406.80,249.62 407.36,247.65 405.74,246.38 407.79,246.31"/><polygon points="418.00,247.88 418.71,249.81 420.76,249.88 419.14,251.15 419.70,253.12 418.00,251.98 416.30,253.12 416.86,251.15 415.24,249.88 417.29,249.81"/><polygon points="427.70,253.78 428.41,255.71 430.46,255.78 428.84,257.05 429.40,259.02 427.70,257.88 426.00,259.02 426.56,257.05 424.94,255.78 426.99,255.71"/></g>
<g fill="none" stroke="#2ca02c" stroke-width="1.15"><rect x="280.50" y="157.50" width="6.20" height="6.20"/><rect x="290.20" y="174.20" width="6.20" height="6.20"/><rect x="299.50" y="185.80" width="6.20" height="6.20"/><rect x="308.40" y="191.50" width="6.20" height="6.20"/><rect x="318.10" y="198.40" width="6.20" height="6.20"/><rect x="327.30" y="204.20" width="6.20" height="6.20"/><rect x="337.10" y="209.50" width="6.20" height="6.20"/><rect x="346.30" y="215.40" width="6.20" height="6.20"/><rect x="355.50" y="221.80" width="6.20" height="6.20"/><rect x="365.00" y="228.40" width="6.20" height="6.20"/><rect x="374.40" y="233.80" width="6.20" height="6.20"/><rect x="383.30" y="237.30" width="6.20" height="6.20"/><rect x="392.60" y="240.90" width="6.20" height="6.20"/><rect x="401.80" y="244.40" width="6.20" height="6.20"/><rect x="411.30" y="248.50" width="6.20" height="6.20"/></g>
<line x1="337.8" y1="223.5" x2="437.5" y2="256.4" stroke="#000" stroke-width="1.95" stroke-dasharray="7.2 3.6"/>
<line x1="284.0" y1="176.2" x2="414.4" y2="261.8" stroke="#ff0000" stroke-width="2.35" stroke-dasharray="7.2 3.6"/>
</svg>
<rect x="276.0" y="155.5" width="172.50" height="112.00" fill="none" stroke="#808080" stroke-width="1.0"/>
<path d="M278.81,267.50v1.0M282.01,267.50v1.0M284.49,267.50v1.0M286.52,267.50v1.0M288.23,267.50v1.0M289.72,267.50v1.0M291.03,267.50v1.0M292.20,267.50v2.2M299.91,267.50v1.0M304.41,267.50v1.0M307.61,267.50v1.0M310.09,267.50v1.0M312.12,267.50v1.0M313.83,267.50v1.0M315.32,267.50v1.0M316.63,267.50v1.0M317.80,267.50v1.4M325.51,267.50v1.0M330.01,267.50v1.0M333.21,267.50v1.0M335.69,267.50v1.0M337.72,267.50v1.0M339.43,267.50v1.0M340.92,267.50v1.0M342.23,267.50v1.0M343.40,267.50v1.4M351.11,267.50v1.0M355.61,267.50v1.0M358.81,267.50v1.0M361.29,267.50v1.0M363.32,267.50v1.0M365.03,267.50v1.0M366.52,267.50v1.0M367.83,267.50v1.0M369.00,267.50v2.2M376.71,267.50v1.0M381.21,267.50v1.0M384.41,267.50v1.0M386.89,267.50v1.0M388.92,267.50v1.0M390.63,267.50v1.0M392.12,267.50v1.0M393.43,267.50v1.0M394.60,267.50v1.4M402.31,267.50v1.0M406.81,267.50v1.0M410.01,267.50v1.0M412.49,267.50v1.0M414.52,267.50v1.0M416.23,267.50v1.0M417.72,267.50v1.0M419.03,267.50v1.0M420.20,267.50v1.4M427.91,267.50v1.0M432.41,267.50v1.0M435.61,267.50v1.0M438.09,267.50v1.0M440.12,267.50v1.0M441.83,267.50v1.0M443.32,267.50v1.0M444.63,267.50v1.0M445.80,267.50v2.2M276.00,263.99h-1.0M276.00,259.06h-1.0M276.00,255.57h-1.0M276.00,252.86h-1.0M276.00,250.65h-1.0M276.00,248.78h-1.0M276.00,247.16h-1.0M276.00,245.73h-1.0M276.00,244.45h-2.2M276.00,236.04h-1.0M276.00,231.11h-1.0M276.00,227.62h-1.0M276.00,224.91h-1.0M276.00,222.70h-1.0M276.00,220.83h-1.0M276.00,219.21h-1.0M276.00,217.78h-1.0M276.00,216.50h-2.2M276.00,208.09h-1.0M276.00,203.16h-1.0M276.00,199.67h-1.0M276.00,196.96h-1.0M276.00,194.75h-1.0M276.00,192.88h-1.0M276.00,191.26h-1.0M276.00,189.83h-1.0M276.00,188.55h-2.2M276.00,180.14h-1.0M276.00,175.21h-1.0M276.00,171.72h-1.0M276.00,169.01h-1.0M276.00,166.80h-1.0M276.00,164.93h-1.0M276.00,163.31h-1.0M276.00,161.88h-1.0M276.00,160.60h-2.2" stroke="#808080" stroke-width="0.7" fill="none"/>
<text transform="translate(277.67,280.80) scale(0.9472,1)" style="font-family:'Liberation Sans', sans-serif;font-size:13.80px" fill="#000" stroke="#000" stroke-width="0.2">1</text><text transform="translate(285.79,280.86) scale(0.9878,1)" style="font-family:'Liberation Sans', sans-serif;font-size:13.92px" fill="#000" stroke="#000" stroke-width="0.2">0</text><rect x="294.72" y="272.73" width="5.71" height="0.80" fill="#000"/><text transform="translate(301.72,276.03) scale(0.9487,1)" style="font-family:'Liberation Sans', sans-serif;font-size:9.74px" fill="#000" stroke="#000" stroke-width="0.2">3</text>
<text transform="translate(358.28,280.80) scale(0.9472,1)" style="font-family:'Liberation Sans', sans-serif;font-size:13.80px" fill="#000" stroke="#000" stroke-width="0.2">1</text><text transform="translate(366.40,280.86) scale(0.9878,1)" style="font-family:'Liberation Sans', sans-serif;font-size:13.92px" fill="#000" stroke="#000" stroke-width="0.2">0</text><text transform="translate(374.58,276.03) scale(0.9878,1)" style="font-family:'Liberation Sans', sans-serif;font-size:9.74px" fill="#000" stroke="#000" stroke-width="0.2">0</text>
<text transform="translate(435.08,280.80) scale(0.9472,1)" style="font-family:'Liberation Sans', sans-serif;font-size:13.80px" fill="#000" stroke="#000" stroke-width="0.2">1</text><text transform="translate(443.20,280.86) scale(0.9878,1)" style="font-family:'Liberation Sans', sans-serif;font-size:13.92px" fill="#000" stroke="#000" stroke-width="0.2">0</text><text transform="translate(451.51,276.03) scale(0.9487,1)" style="font-family:'Liberation Sans', sans-serif;font-size:9.74px" fill="#000" stroke="#000" stroke-width="0.2">3</text>
<text transform="translate(250.32,165.34) scale(0.9472,1)" style="font-family:'Liberation Sans', sans-serif;font-size:13.80px" fill="#000" stroke="#000" stroke-width="0.2">1</text><text transform="translate(258.43,165.40) scale(0.9878,1)" style="font-family:'Liberation Sans', sans-serif;font-size:13.92px" fill="#000" stroke="#000" stroke-width="0.2">0</text><text transform="translate(266.60,160.53) scale(0.9600,1)" style="font-family:'Liberation Sans', sans-serif;font-size:9.69px" fill="#000" stroke="#000" stroke-width="0.2">2</text>
<text transform="translate(250.25,193.30) scale(0.9472,1)" style="font-family:'Liberation Sans', sans-serif;font-size:13.80px" fill="#000" stroke="#000" stroke-width="0.2">1</text><text transform="translate(258.36,193.35) scale(0.9878,1)" style="font-family:'Liberation Sans', sans-serif;font-size:13.92px" fill="#000" stroke="#000" stroke-width="0.2">0</text><text transform="translate(266.66,188.49) scale(0.9472,1)" style="font-family:'Liberation Sans', sans-serif;font-size:9.66px" fill="#000" stroke="#000" stroke-width="0.2">1</text>
<text transform="translate(250.02,221.25) scale(0.9472,1)" style="font-family:'Liberation Sans', sans-serif;font-size:13.80px" fill="#000" stroke="#000" stroke-width="0.2">1</text><text transform="translate(258.14,221.30) scale(0.9878,1)" style="font-family:'Liberation Sans', sans-serif;font-size:13.92px" fill="#000" stroke="#000" stroke-width="0.2">0</text><text transform="translate(266.32,216.47) scale(0.9878,1)" style="font-family:'Liberation Sans', sans-serif;font-size:9.74px" fill="#000" stroke="#000" stroke-width="0.2">0</text>
<text transform="translate(242.62,249.19) scale(0.9472,1)" style="font-family:'Liberation Sans', sans-serif;font-size:13.80px" fill="#000" stroke="#000" stroke-width="0.2">1</text><text transform="translate(250.74,249.25) scale(0.9878,1)" style="font-family:'Liberation Sans', sans-serif;font-size:13.92px" fill="#000" stroke="#000" stroke-width="0.2">0</text><rect x="259.67" y="241.13" width="5.71" height="0.80" fill="#000"/><text transform="translate(266.66,244.38) scale(0.9472,1)" style="font-family:'Liberation Sans', sans-serif;font-size:9.66px" fill="#000" stroke="#000" stroke-width="0.2">1</text>
<text transform="translate(281.73,259.50) scale(1.1236,1)" style="font-family:'Liberation Serif', serif;font-size:20.65px;font-style:italic" fill="#111" stroke="#fff" stroke-width="0.12">κ</text>
<path d="M300.20,251.70H313.90M300.20,256.30H313.90" stroke="#111" stroke-width="0.9"/>
<text transform="translate(320.63,259.50) scale(1.0158,1)" style="font-family:'Liberation Serif', serif;font-size:20.15px" fill="#111" stroke="#fff" stroke-width="0.12">0.5</text>
<text transform="translate(278.29,242.50) scale(0.8750,1)" x="0.23 11.30 22.62 34.15 46.17" y="0" style="font-family:'Liberation Sans', sans-serif;font-size:16.39px" fill="#000" stroke="#000" stroke-width="0.2">SESRW</text>
<text transform="translate(418.76,169.14) scale(1.1786,1)" style="font-family:'Liberation Sans', sans-serif;font-size:14.26px;font-weight:bold" fill="#000" stroke="#000" stroke-width="0.55" stroke-linejoin="round">(</text><text transform="translate(425.54,170.22) scale(1.2596,1)" style="font-family:'Liberation Sans', sans-serif;font-size:15.69px;font-weight:bold" fill="#000" stroke="#000" stroke-width="0.55" stroke-linejoin="round">e</text><text transform="translate(437.91,169.14) scale(1.1892,1)" style="font-family:'Liberation Sans', sans-serif;font-size:14.26px;font-weight:bold" fill="#000" stroke="#000" stroke-width="0.55" stroke-linejoin="round">)</text>
<svg x="501.5" y="155.5" width="172.0" height="112.0" viewBox="501.5 155.5 172.0 112.0" overflow="hidden">
<g fill="none" stroke="#1f77b4" stroke-width="1.2"><circle cx="533.50" cy="177.30" r="3.10"/><circle cx="542.80" cy="194.20" r="3.10"/><circle cx="552.50" cy="203.00" r="3.10"/><circle cx="561.60" cy="211.40" r="3.10"/><circle cx="570.80" cy="218.20" r="3.10"/><circle cx="579.70" cy="223.90" r="3.10"/><circle cx="588.60" cy="229.70" r="3.10"/><circle cx="597.50" cy="234.50" r="3.10"/><circle cx="607.30" cy="237.70" r="3.10"/><circle cx="616.20" cy="240.40" r="3.10"/><circle cx="625.10" cy="242.70" r="3.10"/><circle cx="634.60" cy="246.60" r="3.10"/><circle cx="643.80" cy="249.30" r="3.10"/><circle cx="652.70" cy="252.90" r="3.10"/><circle cx="661.60" cy="257.00" r="3.10"/></g>
<g fill="none" stroke="#ff7f0e" stroke-width="1.15" stroke-linejoin="bevel"><polygon points="521.20,166.28 521.91,168.21 523.96,168.28 522.34,169.55 522.90,171.52 521.20,170.38 519.50,171.52 520.06,169.55 518.44,168.28 520.49,168.21"/><polygon points="530.50,183.98 531.21,185.91 533.26,185.98 531.64,187.25 532.20,189.22 530.50,188.08 528.80,189.22 529.36,187.25 527.74,185.98 529.79,185.91"/><polygon points="539.80,192.88 540.51,194.81 542.56,194.88 540.94,196.15 541.50,198.12 539.80,196.98 538.10,198.12 538.66,196.15 537.04,194.88 539.09,194.81"/><polygon points="548.80,201.48 549.51,203.41 551.56,203.48 549.94,204.75 550.50,206.72 548.80,205.58 547.10,206.72 547.66,204.75 546.04,203.48 548.09,203.41"/><polygon points="558.10,207.48 558.81,209.41 560.86,209.48 559.24,210.75 559.80,212.72 558.10,211.58 556.40,212.72 556.96,210.75 555.34,209.48 557.39,209.41"/><polygon points="567.50,212.88 568.21,214.81 570.26,214.88 568.64,216.15 569.20,218.12 567.50,216.98 565.80,218.12 566.36,216.15 564.74,214.88 566.79,214.81"/><polygon points="576.50,218.88 577.21,220.81 579.26,220.88 577.64,222.15 578.20,224.12 576.50,222.98 574.80,224.12 575.36,222.15 573.74,220.88 575.79,220.81"/><polygon points="585.50,224.38 586.21,226.31 588.26,226.38 586.64,227.65 587.20,229.62 585.50,228.48 583.80,229.62 584.36,227.65 582.74,226.38 584.79,226.31"/><polygon points="594.50,229.38 595.21,231.31 597.26,231.38 595.64,232.65 596.20,234.62 594.50,233.48 592.80,234.62 593.36,232.65 591.74,231.38 593.79,231.31"/><polygon points="603.50,233.38 604.21,235.31 606.26,235.38 604.64,236.65 605.20,238.62 603.50,237.48 601.80,238.62 602.36,236.65 600.74,235.38 602.79,235.31"/><polygon points="612.50,235.88 613.21,237.81 615.26,237.88 613.64,239.15 614.20,241.12 612.50,239.98 610.80,241.12 611.36,239.15 609.74,237.88 611.79,237.81"/><polygon points="621.50,238.38 622.21,240.31 624.26,240.38 622.64,241.65 623.20,243.62 621.50,242.48 619.80,243.62 620.36,241.65 618.74,240.38 620.79,240.31"/><polygon points="630.50,241.38 631.21,243.31 633.26,243.38 631.64,244.65 632.20,246.62 630.50,245.48 628.80,246.62 629.36,244.65 627.74,243.38 629.79,243.31"/><polygon points="640.00,245.88 640.71,247.81 642.76,247.88 641.14,249.15 641.70,251.12 640.00,249.98 638.30,251.12 638.86,249.15 637.24,247.88 639.29,247.81"/><polygon points="649.20,249.68 649.91,251.61 651.96,251.68 650.34,252.95 650.90,254.92 649.20,253.78 647.50,254.92 648.06,252.95 646.44,251.68 648.49,251.61"/></g>
<g fill="none" stroke="#2ca02c" stroke-width="1.15"><rect x="505.90" y="157.50" width="6.20" height="6.20"/><rect x="515.20" y="174.70" width="6.20" height="6.20"/><rect x="524.20" y="183.80" width="6.20" height="6.20"/><rect x="533.50" y="192.40" width="6.20" height="6.20"/><rect x="542.80" y="198.40" width="6.20" height="6.20"/><rect x="551.70" y="204.40" width="6.20" height="6.20"/><rect x="560.90" y="209.50" width="6.20" height="6.20"/><rect x="569.80" y="215.90" width="6.20" height="6.20"/><rect x="579.30" y="221.80" width="6.20" height="6.20"/><rect x="588.20" y="227.20" width="6.20" height="6.20"/><rect x="597.10" y="231.10" width="6.20" height="6.20"/><rect x="606.00" y="233.80" width="6.20" height="6.20"/><rect x="615.40" y="236.10" width="6.20" height="6.20"/><rect x="624.70" y="238.60" width="6.20" height="6.20"/><rect x="633.60" y="241.80" width="6.20" height="6.20"/></g>
<line x1="561.0" y1="222.1" x2="660.7" y2="255.2" stroke="#000" stroke-width="1.95" stroke-dasharray="7.2 3.6"/>
<line x1="509.2" y1="177.6" x2="636.7" y2="262.3" stroke="#ff0000" stroke-width="2.35" stroke-dasharray="7.2 3.6"/>
</svg>
<rect x="501.5" y="155.5" width="172.00" height="112.00" fill="none" stroke="#808080" stroke-width="1.0"/>
<path d="M503.00,267.50v1.0M504.83,267.50v1.0M506.43,267.50v1.0M507.83,267.50v1.0M509.09,267.50v2.2M517.36,267.50v1.0M522.20,267.50v1.0M525.63,267.50v1.0M528.29,267.50v1.0M530.47,267.50v1.0M532.30,267.50v1.0M533.90,267.50v1.0M535.30,267.50v1.0M536.56,267.50v1.4M544.83,267.50v1.0M549.67,267.50v1.0M553.10,267.50v1.0M555.76,267.50v1.0M557.94,267.50v1.0M559.77,267.50v1.0M561.37,267.50v1.0M562.77,267.50v1.0M564.03,267.50v1.4M572.30,267.50v1.0M577.14,267.50v1.0M580.57,267.50v1.0M583.23,267.50v1.0M585.41,267.50v1.0M587.24,267.50v1.0M588.84,267.50v1.0M590.24,267.50v1.0M591.50,267.50v2.2M599.77,267.50v1.0M604.61,267.50v1.0M608.04,267.50v1.0M610.70,267.50v1.0M612.88,267.50v1.0M614.71,267.50v1.0M616.31,267.50v1.0M617.71,267.50v1.0M618.97,267.50v1.4M627.24,267.50v1.0M632.08,267.50v1.0M635.51,267.50v1.0M638.17,267.50v1.0M640.35,267.50v1.0M642.18,267.50v1.0M643.78,267.50v1.0M645.18,267.50v1.0M646.44,267.50v1.4M654.71,267.50v1.0M659.55,267.50v1.0M662.98,267.50v1.0M665.64,267.50v1.0M667.82,267.50v1.0M669.65,267.50v1.0M671.25,267.50v1.0M672.65,267.50v1.0M501.50,263.26h-1.0M501.50,258.38h-1.0M501.50,254.92h-1.0M501.50,252.24h-1.0M501.50,250.05h-1.0M501.50,248.19h-1.0M501.50,246.58h-1.0M501.50,245.17h-1.0M501.50,243.90h-2.2M501.50,235.56h-1.0M501.50,230.68h-1.0M501.50,227.22h-1.0M501.50,224.54h-1.0M501.50,222.35h-1.0M501.50,220.49h-1.0M501.50,218.88h-1.0M501.50,217.47h-1.0M501.50,216.20h-2.2M501.50,207.86h-1.0M501.50,202.98h-1.0M501.50,199.52h-1.0M501.50,196.84h-1.0M501.50,194.65h-1.0M501.50,192.79h-1.0M501.50,191.18h-1.0M501.50,189.77h-1.0M501.50,188.50h-2.2M501.50,180.16h-1.0M501.50,175.28h-1.0M501.50,171.82h-1.0M501.50,169.14h-1.0M501.50,166.95h-1.0M501.50,165.09h-1.0M501.50,163.48h-1.0M501.50,162.07h-1.0M501.50,160.80h-2.2" stroke="#808080" stroke-width="0.7" fill="none"/>
<text transform="translate(494.56,280.80) scale(0.9472,1)" style="font-family:'Liberation Sans', sans-serif;font-size:13.80px" fill="#000" stroke="#000" stroke-width="0.2">1</text><text transform="translate(502.68,280.86) scale(0.9878,1)" style="font-family:'Liberation Sans', sans-serif;font-size:13.92px" fill="#000" stroke="#000" stroke-width="0.2">0</text><rect x="511.61" y="272.73" width="5.71" height="0.80" fill="#000"/><text transform="translate(518.61,276.03) scale(0.9487,1)" style="font-family:'Liberation Sans', sans-serif;font-size:9.74px" fill="#000" stroke="#000" stroke-width="0.2">3</text>
<text transform="translate(580.78,280.80) scale(0.9472,1)" style="font-family:'Liberation Sans', sans-serif;font-size:13.80px" fill="#000" stroke="#000" stroke-width="0.2">1</text><text transform="translate(588.90,280.86) scale(0.9878,1)" style="font-family:'Liberation Sans', sans-serif;font-size:13.92px" fill="#000" stroke="#000" stroke-width="0.2">0</text><text transform="translate(597.08,276.03) scale(0.9878,1)" style="font-family:'Liberation Sans', sans-serif;font-size:9.74px" fill="#000" stroke="#000" stroke-width="0.2">0</text>
<text transform="translate(663.19,280.80) scale(0.9472,1)" style="font-family:'Liberation Sans', sans-serif;font-size:13.80px" fill="#000" stroke="#000" stroke-width="0.2">1</text><text transform="translate(671.31,280.86) scale(0.9878,1)" style="font-family:'Liberation Sans', sans-serif;font-size:13.92px" fill="#000" stroke="#000" stroke-width="0.2">0</text><text transform="translate(679.62,276.03) scale(0.9487,1)" style="font-family:'Liberation Sans', sans-serif;font-size:9.74px" fill="#000" stroke="#000" stroke-width="0.2">3</text>
<text transform="translate(475.82,165.54) scale(0.9472,1)" style="font-family:'Liberation Sans', sans-serif;font-size:13.80px" fill="#000" stroke="#000" stroke-width="0.2">1</text><text transform="translate(483.93,165.60) scale(0.9878,1)" style="font-family:'Liberation Sans', sans-serif;font-size:13.92px" fill="#000" stroke="#000" stroke-width="0.2">0</text><text transform="translate(492.10,160.73) scale(0.9600,1)" style="font-family:'Liberation Sans', sans-serif;font-size:9.69px" fill="#000" stroke="#000" stroke-width="0.2">2</text>
<text transform="translate(475.75,193.25) scale(0.9472,1)" style="font-family:'Liberation Sans', sans-serif;font-size:13.80px" fill="#000" stroke="#000" stroke-width="0.2">1</text><text transform="translate(483.86,193.30) scale(0.9878,1)" style="font-family:'Liberation Sans', sans-serif;font-size:13.92px" fill="#000" stroke="#000" stroke-width="0.2">0</text><text transform="translate(492.16,188.44) scale(0.9472,1)" style="font-family:'Liberation Sans', sans-serif;font-size:9.66px" fill="#000" stroke="#000" stroke-width="0.2">1</text>
<text transform="translate(475.52,220.94) scale(0.9472,1)" style="font-family:'Liberation Sans', sans-serif;font-size:13.80px" fill="#000" stroke="#000" stroke-width="0.2">1</text><text transform="translate(483.64,221.00) scale(0.9878,1)" style="font-family:'Liberation Sans', sans-serif;font-size:13.92px" fill="#000" stroke="#000" stroke-width="0.2">0</text><text transform="translate(491.82,216.17) scale(0.9878,1)" style="font-family:'Liberation Sans', sans-serif;font-size:9.74px" fill="#000" stroke="#000" stroke-width="0.2">0</text>
<text transform="translate(468.12,248.64) scale(0.9472,1)" style="font-family:'Liberation Sans', sans-serif;font-size:13.80px" fill="#000" stroke="#000" stroke-width="0.2">1</text><text transform="translate(476.24,248.70) scale(0.9878,1)" style="font-family:'Liberation Sans', sans-serif;font-size:13.92px" fill="#000" stroke="#000" stroke-width="0.2">0</text><rect x="485.17" y="240.58" width="5.71" height="0.80" fill="#000"/><text transform="translate(492.16,243.83) scale(0.9472,1)" style="font-family:'Liberation Sans', sans-serif;font-size:9.66px" fill="#000" stroke="#000" stroke-width="0.2">1</text>
<text transform="translate(504.44,261.80) scale(0.9377,1)" x="0.05 9.86 20.87 31.42" y="0" style="font-family:'Liberation Sans', sans-serif;font-size:16.28px" fill="#000" stroke="#000" stroke-width="0.2">TSAW</text>
<text transform="translate(647.67,169.14) scale(1.1570,1)" style="font-family:'Liberation Sans', sans-serif;font-size:14.26px;font-weight:bold" fill="#000" stroke="#000" stroke-width="0.55" stroke-linejoin="round">(</text><text transform="translate(654.37,170.16) scale(1.3618,1)" style="font-family:'Liberation Sans', sans-serif;font-size:15.67px;font-weight:bold" fill="#000" stroke="#000" stroke-width="0.55" stroke-linejoin="round">f</text><text transform="translate(662.60,169.14) scale(1.1673,1)" style="font-family:'Liberation Sans', sans-serif;font-size:14.26px;font-weight:bold" fill="#000" stroke="#000" stroke-width="0.55" stroke-linejoin="round">)</text>
<svg x="49.5" y="306.5" width="172.5" height="112.0" viewBox="49.5 306.5 172.5 112.0" overflow="hidden">
<g fill="none" stroke="#1f77b4" stroke-width="1.2"><circle cx="123.30" cy="354.60" r="3.10"/><circle cx="132.10" cy="357.30" r="3.10"/><circle cx="141.00" cy="361.30" r="3.10"/><circle cx="149.80" cy="364.70" r="3.10"/><circle cx="159.80" cy="369.80" r="3.10"/><circle cx="168.80" cy="378.20" r="3.10"/><circle cx="178.00" cy="386.10" r="3.10"/><circle cx="186.70" cy="393.30" r="3.10"/><circle cx="196.10" cy="399.80" r="3.10"/><circle cx="204.90" cy="406.10" r="3.10"/><circle cx="214.30" cy="412.10" r="3.10"/></g>
<g fill="none" stroke="#ff7f0e" stroke-width="1.15" stroke-linejoin="bevel"><polygon points="90.50,336.78 91.21,338.71 93.26,338.78 91.64,340.05 92.20,342.02 90.50,340.88 88.80,342.02 89.36,340.05 87.74,338.78 89.79,338.71"/><polygon points="99.40,337.28 100.11,339.21 102.16,339.28 100.54,340.55 101.10,342.52 99.40,341.38 97.70,342.52 98.26,340.55 96.64,339.28 98.69,339.21"/><polygon points="108.20,340.68 108.91,342.61 110.96,342.68 109.34,343.95 109.90,345.92 108.20,344.78 106.50,345.92 107.06,343.95 105.44,342.68 107.49,342.61"/><polygon points="117.10,345.08 117.81,347.01 119.86,347.08 118.24,348.35 118.80,350.32 117.10,349.18 115.40,350.32 115.96,348.35 114.34,347.08 116.39,347.01"/><polygon points="126.50,348.88 127.21,350.81 129.26,350.88 127.64,352.15 128.20,354.12 126.50,352.98 124.80,354.12 125.36,352.15 123.74,350.88 125.79,350.81"/><polygon points="135.50,353.38 136.21,355.31 138.26,355.38 136.64,356.65 137.20,358.62 135.50,357.48 133.80,358.62 134.36,356.65 132.74,355.38 134.79,355.31"/><polygon points="145.00,357.88 145.71,359.81 147.76,359.88 146.14,361.15 146.70,363.12 145.00,361.98 143.30,363.12 143.86,361.15 142.24,359.88 144.29,359.81"/><polygon points="154.20,364.38 154.91,366.31 156.96,366.38 155.34,367.65 155.90,369.62 154.20,368.48 152.50,369.62 153.06,367.65 151.44,366.38 153.49,366.31"/><polygon points="163.60,369.98 164.31,371.91 166.36,371.98 164.74,373.25 165.30,375.22 163.60,374.08 161.90,375.22 162.46,373.25 160.84,371.98 162.89,371.91"/><polygon points="172.00,377.48 172.71,379.41 174.76,379.48 173.14,380.75 173.70,382.72 172.00,381.58 170.30,382.72 170.86,380.75 169.24,379.48 171.29,379.41"/><polygon points="181.10,385.38 181.81,387.31 183.86,387.38 182.24,388.65 182.80,390.62 181.10,389.48 179.40,390.62 179.96,388.65 178.34,387.38 180.39,387.31"/></g>
<g fill="none" stroke="#2ca02c" stroke-width="1.15"><rect x="54.50" y="321.80" width="6.20" height="6.20"/><rect x="63.20" y="321.80" width="6.20" height="6.20"/><rect x="72.20" y="322.60" width="6.20" height="6.20"/><rect x="81.50" y="325.20" width="6.20" height="6.20"/><rect x="90.40" y="330.10" width="6.20" height="6.20"/><rect x="99.70" y="335.00" width="6.20" height="6.20"/><rect x="108.70" y="340.30" width="6.20" height="6.20"/><rect x="117.40" y="345.20" width="6.20" height="6.20"/><rect x="125.90" y="349.90" width="6.20" height="6.20"/><rect x="135.10" y="354.80" width="6.20" height="6.20"/><rect x="144.50" y="359.70" width="6.20" height="6.20"/></g>
<line x1="124.0" y1="345.6" x2="214.3" y2="412.1" stroke="#000" stroke-width="1.95" stroke-dasharray="7.2 3.6"/>
<line x1="57.6" y1="311.6" x2="148.5" y2="364.1" stroke="#ff0000" stroke-width="2.35" stroke-dasharray="7.2 3.6"/>
</svg>
<rect x="49.5" y="306.5" width="172.50" height="112.00" fill="none" stroke="#808080" stroke-width="1.0"/>
<path d="M50.61,418.50v1.0M51.56,418.50v1.0M52.37,418.50v1.0M53.07,418.50v1.0M53.69,418.50v1.0M54.24,418.50v1.4M57.87,418.50v1.0M60.00,418.50v1.0M61.51,418.50v1.0M62.68,418.50v1.0M63.63,418.50v1.0M64.44,418.50v1.0M65.14,418.50v1.0M65.76,418.50v1.0M66.31,418.50v1.4M69.94,418.50v1.0M72.07,418.50v1.0M73.58,418.50v1.0M74.75,418.50v1.0M75.70,418.50v1.0M76.51,418.50v1.0M77.21,418.50v1.0M77.83,418.50v1.0M78.38,418.50v2.2M82.01,418.50v1.0M84.14,418.50v1.0M85.65,418.50v1.0M86.82,418.50v1.0M87.77,418.50v1.0M88.58,418.50v1.0M89.28,418.50v1.0M89.90,418.50v1.0M90.45,418.50v1.4M94.08,418.50v1.0M96.21,418.50v1.0M97.72,418.50v1.0M98.89,418.50v1.0M99.84,418.50v1.0M100.65,418.50v1.0M101.35,418.50v1.0M101.97,418.50v1.0M102.52,418.50v1.4M106.15,418.50v1.0M108.28,418.50v1.0M109.79,418.50v1.0M110.96,418.50v1.0M111.91,418.50v1.0M112.72,418.50v1.0M113.42,418.50v1.0M114.04,418.50v1.0M114.59,418.50v2.2M118.22,418.50v1.0M120.35,418.50v1.0M121.86,418.50v1.0M123.03,418.50v1.0M123.98,418.50v1.0M124.79,418.50v1.0M125.49,418.50v1.0M126.11,418.50v1.0M126.66,418.50v1.4M130.29,418.50v1.0M132.42,418.50v1.0M133.93,418.50v1.0M135.10,418.50v1.0M136.05,418.50v1.0M136.86,418.50v1.0M137.56,418.50v1.0M138.18,418.50v1.0M138.73,418.50v1.4M142.36,418.50v1.0M144.49,418.50v1.0M146.00,418.50v1.0M147.17,418.50v1.0M148.12,418.50v1.0M148.93,418.50v1.0M149.63,418.50v1.0M150.25,418.50v1.0M150.80,418.50v2.2M154.43,418.50v1.0M156.56,418.50v1.0M158.07,418.50v1.0M159.24,418.50v1.0M160.19,418.50v1.0M161.00,418.50v1.0M161.70,418.50v1.0M162.32,418.50v1.0M162.87,418.50v1.4M166.50,418.50v1.0M168.63,418.50v1.0M170.14,418.50v1.0M171.31,418.50v1.0M172.26,418.50v1.0M173.07,418.50v1.0M173.77,418.50v1.0M174.39,418.50v1.0M174.94,418.50v1.4M178.57,418.50v1.0M180.70,418.50v1.0M182.21,418.50v1.0M183.38,418.50v1.0M184.33,418.50v1.0M185.14,418.50v1.0M185.84,418.50v1.0M186.46,418.50v1.0M187.01,418.50v2.2M190.64,418.50v1.0M192.77,418.50v1.0M194.28,418.50v1.0M195.45,418.50v1.0M196.40,418.50v1.0M197.21,418.50v1.0M197.91,418.50v1.0M198.53,418.50v1.0M199.08,418.50v1.4M202.71,418.50v1.0M204.84,418.50v1.0M206.35,418.50v1.0M207.52,418.50v1.0M208.47,418.50v1.0M209.28,418.50v1.0M209.98,418.50v1.0M210.60,418.50v1.0M211.15,418.50v1.4M214.78,418.50v1.0M216.91,418.50v1.0M218.42,418.50v1.0M219.59,418.50v1.0M220.54,418.50v1.0M221.35,418.50v1.0M49.50,417.22h-1.0M49.50,415.45h-1.0M49.50,414.08h-1.0M49.50,412.95h-1.0M49.50,412.00h-1.0M49.50,411.18h-1.0M49.50,410.46h-1.0M49.50,409.81h-2.2M49.50,405.54h-1.0M49.50,403.05h-1.0M49.50,401.28h-1.0M49.50,399.91h-1.0M49.50,398.78h-1.0M49.50,397.83h-1.0M49.50,397.01h-1.0M49.50,396.29h-1.0M49.50,395.64h-1.4M49.50,391.37h-1.0M49.50,388.88h-1.0M49.50,387.11h-1.0M49.50,385.74h-1.0M49.50,384.61h-1.0M49.50,383.66h-1.0M49.50,382.84h-1.0M49.50,382.12h-1.0M49.50,381.47h-2.2M49.50,377.20h-1.0M49.50,374.71h-1.0M49.50,372.94h-1.0M49.50,371.57h-1.0M49.50,370.44h-1.0M49.50,369.49h-1.0M49.50,368.67h-1.0M49.50,367.95h-1.0M49.50,367.30h-1.4M49.50,363.03h-1.0M49.50,360.54h-1.0M49.50,358.77h-1.0M49.50,357.40h-1.0M49.50,356.27h-1.0M49.50,355.32h-1.0M49.50,354.50h-1.0M49.50,353.78h-1.0M49.50,353.13h-2.2M49.50,348.86h-1.0M49.50,346.37h-1.0M49.50,344.60h-1.0M49.50,343.23h-1.0M49.50,342.10h-1.0M49.50,341.15h-1.0M49.50,340.33h-1.0M49.50,339.61h-1.0M49.50,338.96h-1.4M49.50,334.69h-1.0M49.50,332.20h-1.0M49.50,330.43h-1.0M49.50,329.06h-1.0M49.50,327.93h-1.0M49.50,326.98h-1.0M49.50,326.16h-1.0M49.50,325.44h-1.0M49.50,324.79h-2.2M49.50,320.52h-1.0M49.50,318.03h-1.0M49.50,316.26h-1.0M49.50,314.89h-1.0M49.50,313.76h-1.0M49.50,312.81h-1.0M49.50,311.99h-1.0M49.50,311.27h-1.0M49.50,310.62h-1.4" stroke="#808080" stroke-width="0.7" fill="none"/>
<text transform="translate(63.85,431.80) scale(0.9472,1)" style="font-family:'Liberation Sans', sans-serif;font-size:13.80px" fill="#000" stroke="#000" stroke-width="0.2">1</text><text transform="translate(71.97,431.86) scale(0.9878,1)" style="font-family:'Liberation Sans', sans-serif;font-size:13.92px" fill="#000" stroke="#000" stroke-width="0.2">0</text><rect x="80.90" y="423.73" width="5.71" height="0.80" fill="#000"/><text transform="translate(87.71,427.03) scale(1.0148,1)" style="font-family:'Liberation Sans', sans-serif;font-size:9.74px" fill="#000" stroke="#000" stroke-width="0.2">6</text>
<text transform="translate(100.06,431.80) scale(0.9472,1)" style="font-family:'Liberation Sans', sans-serif;font-size:13.80px" fill="#000" stroke="#000" stroke-width="0.2">1</text><text transform="translate(108.18,431.86) scale(0.9878,1)" style="font-family:'Liberation Sans', sans-serif;font-size:13.92px" fill="#000" stroke="#000" stroke-width="0.2">0</text><rect x="117.11" y="423.73" width="5.71" height="0.80" fill="#000"/><text transform="translate(124.11,427.03) scale(0.9487,1)" style="font-family:'Liberation Sans', sans-serif;font-size:9.74px" fill="#000" stroke="#000" stroke-width="0.2">3</text>
<text transform="translate(140.08,431.80) scale(0.9472,1)" style="font-family:'Liberation Sans', sans-serif;font-size:13.80px" fill="#000" stroke="#000" stroke-width="0.2">1</text><text transform="translate(148.20,431.86) scale(0.9878,1)" style="font-family:'Liberation Sans', sans-serif;font-size:13.92px" fill="#000" stroke="#000" stroke-width="0.2">0</text><text transform="translate(156.38,427.03) scale(0.9878,1)" style="font-family:'Liberation Sans', sans-serif;font-size:9.74px" fill="#000" stroke="#000" stroke-width="0.2">0</text>
<text transform="translate(176.29,431.80) scale(0.9472,1)" style="font-family:'Liberation Sans', sans-serif;font-size:13.80px" fill="#000" stroke="#000" stroke-width="0.2">1</text><text transform="translate(184.41,431.86) scale(0.9878,1)" style="font-family:'Liberation Sans', sans-serif;font-size:13.92px" fill="#000" stroke="#000" stroke-width="0.2">0</text><text transform="translate(192.72,427.03) scale(0.9487,1)" style="font-family:'Liberation Sans', sans-serif;font-size:9.74px" fill="#000" stroke="#000" stroke-width="0.2">3</text>
<text transform="translate(23.63,329.54) scale(0.9472,1)" style="font-family:'Liberation Sans', sans-serif;font-size:13.80px" fill="#000" stroke="#000" stroke-width="0.2">1</text><text transform="translate(31.75,329.59) scale(0.9878,1)" style="font-family:'Liberation Sans', sans-serif;font-size:13.92px" fill="#000" stroke="#000" stroke-width="0.2">0</text><text transform="translate(40.06,324.76) scale(0.9487,1)" style="font-family:'Liberation Sans', sans-serif;font-size:9.74px" fill="#000" stroke="#000" stroke-width="0.2">3</text>
<text transform="translate(23.75,357.88) scale(0.9472,1)" style="font-family:'Liberation Sans', sans-serif;font-size:13.80px" fill="#000" stroke="#000" stroke-width="0.2">1</text><text transform="translate(31.86,357.93) scale(0.9878,1)" style="font-family:'Liberation Sans', sans-serif;font-size:13.92px" fill="#000" stroke="#000" stroke-width="0.2">0</text><text transform="translate(40.16,353.06) scale(0.9472,1)" style="font-family:'Liberation Sans', sans-serif;font-size:9.66px" fill="#000" stroke="#000" stroke-width="0.2">1</text>
<text transform="translate(16.12,386.22) scale(0.9472,1)" style="font-family:'Liberation Sans', sans-serif;font-size:13.80px" fill="#000" stroke="#000" stroke-width="0.2">1</text><text transform="translate(24.24,386.27) scale(0.9878,1)" style="font-family:'Liberation Sans', sans-serif;font-size:13.92px" fill="#000" stroke="#000" stroke-width="0.2">0</text><rect x="33.17" y="378.15" width="5.71" height="0.80" fill="#000"/><text transform="translate(40.16,381.41) scale(0.9472,1)" style="font-family:'Liberation Sans', sans-serif;font-size:9.66px" fill="#000" stroke="#000" stroke-width="0.2">1</text>
<text transform="translate(16.01,414.56) scale(0.9472,1)" style="font-family:'Liberation Sans', sans-serif;font-size:13.80px" fill="#000" stroke="#000" stroke-width="0.2">1</text><text transform="translate(24.13,414.61) scale(0.9878,1)" style="font-family:'Liberation Sans', sans-serif;font-size:13.92px" fill="#000" stroke="#000" stroke-width="0.2">0</text><rect x="33.06" y="406.49" width="5.71" height="0.80" fill="#000"/><text transform="translate(40.06,409.78) scale(0.9487,1)" style="font-family:'Liberation Sans', sans-serif;font-size:9.74px" fill="#000" stroke="#000" stroke-width="0.2">3</text>
<text transform="translate(51.23,414.85) scale(1.0352,1)" style="font-family:'Liberation Serif', serif;font-size:24.79px;font-style:italic" fill="#111" stroke="#fff" stroke-width="0.12">a</text>
<path d="M71.70,406.80H88.10M71.70,411.50H88.10" stroke="#111" stroke-width="0.9"/>
<text transform="translate(95.69,415.10) scale(1.0267,1)" style="font-family:'Liberation Serif', serif;font-size:23.76px" fill="#111" stroke="#fff" stroke-width="0.12">0.25</text>
<text transform="translate(52.80,396.60) scale(0.9579,1)" x="-0.26 10.68 20.96 30.51 41.71 50.63" y="0" style="font-family:'Liberation Sans', sans-serif;font-size:16.25px" fill="#000" stroke="#000" stroke-width="0.2">SubALL</text>
<text transform="translate(194.98,323.53) scale(1.1067,1)" style="font-family:'Liberation Sans', sans-serif;font-size:14.80px;font-weight:bold" fill="#000" stroke="#000" stroke-width="0.55" stroke-linejoin="round">(</text><text transform="translate(201.66,324.51) scale(1.1485,1)" style="font-family:'Liberation Sans', sans-serif;font-size:16.02px;font-weight:bold" fill="#000" stroke="#000" stroke-width="0.55" stroke-linejoin="round">g</text><text transform="translate(214.23,323.53) scale(1.1166,1)" style="font-family:'Liberation Sans', sans-serif;font-size:14.80px;font-weight:bold" fill="#000" stroke="#000" stroke-width="0.55" stroke-linejoin="round">)</text>
<svg x="280.0" y="309.5" width="172.5" height="112.0" viewBox="280.0 309.5 172.5 112.0" overflow="hidden">
<g fill="none" stroke="#1f77b4" stroke-width="1.2"><circle cx="330.10" cy="352.20" r="3.10"/><circle cx="341.60" cy="353.10" r="3.10"/><circle cx="353.10" cy="357.20" r="3.10"/><circle cx="364.60" cy="364.80" r="3.10"/><circle cx="375.90" cy="375.40" r="3.10"/><circle cx="386.80" cy="381.40" r="3.10"/><circle cx="399.00" cy="385.00" r="3.10"/><circle cx="410.40" cy="389.00" r="3.10"/><circle cx="421.70" cy="393.00" r="3.10"/><circle cx="433.50" cy="397.70" r="3.10"/><circle cx="444.40" cy="402.60" r="3.10"/></g>
<g fill="none" stroke="#ff7f0e" stroke-width="1.15" stroke-linejoin="bevel"><polygon points="309.30,340.68 310.01,342.61 312.06,342.68 310.44,343.95 311.00,345.92 309.30,344.78 307.60,345.92 308.16,343.95 306.54,342.68 308.59,342.61"/><polygon points="320.40,340.88 321.11,342.81 323.16,342.88 321.54,344.15 322.10,346.12 320.40,344.98 318.70,346.12 319.26,344.15 317.64,342.88 319.69,342.81"/><polygon points="332.10,341.98 332.81,343.91 334.86,343.98 333.24,345.25 333.80,347.22 332.10,346.08 330.40,347.22 330.96,345.25 329.34,343.98 331.39,343.91"/><polygon points="343.80,346.88 344.51,348.81 346.56,348.88 344.94,350.15 345.50,352.12 343.80,350.98 342.10,352.12 342.66,350.15 341.04,348.88 343.09,348.81"/><polygon points="355.40,354.88 356.11,356.81 358.16,356.88 356.54,358.15 357.10,360.12 355.40,358.98 353.70,360.12 354.26,358.15 352.64,356.88 354.69,356.81"/><polygon points="366.60,363.48 367.31,365.41 369.36,365.48 367.74,366.75 368.30,368.72 366.60,367.58 364.90,368.72 365.46,366.75 363.84,365.48 365.89,365.41"/><polygon points="378.00,373.88 378.71,375.81 380.76,375.88 379.14,377.15 379.70,379.12 378.00,377.98 376.30,379.12 376.86,377.15 375.24,375.88 377.29,375.81"/><polygon points="389.00,378.78 389.71,380.71 391.76,380.78 390.14,382.05 390.70,384.02 389.00,382.88 387.30,384.02 387.86,382.05 386.24,380.78 388.29,380.71"/><polygon points="400.80,382.88 401.51,384.81 403.56,384.88 401.94,386.15 402.50,388.12 400.80,386.98 399.10,388.12 399.66,386.15 398.04,384.88 400.09,384.81"/><polygon points="411.70,387.28 412.41,389.21 414.46,389.28 412.84,390.55 413.40,392.52 411.70,391.38 410.00,392.52 410.56,390.55 408.94,389.28 410.99,389.21"/><polygon points="422.60,391.78 423.31,393.71 425.36,393.78 423.74,395.05 424.30,397.02 422.60,395.88 420.90,397.02 421.46,395.05 419.84,393.78 421.89,393.71"/></g>
<g fill="none" stroke="#2ca02c" stroke-width="1.15"><rect x="284.90" y="330.50" width="6.20" height="6.20"/><rect x="296.10" y="330.50" width="6.20" height="6.20"/><rect x="307.50" y="331.10" width="6.20" height="6.20"/><rect x="319.10" y="334.10" width="6.20" height="6.20"/><rect x="330.30" y="340.70" width="6.20" height="6.20"/><rect x="341.80" y="348.30" width="6.20" height="6.20"/><rect x="353.20" y="355.70" width="6.20" height="6.20"/><rect x="364.10" y="364.10" width="6.20" height="6.20"/><rect x="375.90" y="373.60" width="6.20" height="6.20"/><rect x="387.40" y="378.30" width="6.20" height="6.20"/><rect x="398.60" y="381.40" width="6.20" height="6.20"/></g>
<line x1="331.5" y1="354.8" x2="444.4" y2="404.4" stroke="#000" stroke-width="1.95" stroke-dasharray="7.2 3.6"/>
<line x1="288.0" y1="314.6" x2="400.8" y2="388.1" stroke="#ff0000" stroke-width="2.35" stroke-dasharray="7.2 3.6"/>
</svg>
<rect x="280.0" y="309.5" width="172.50" height="112.00" fill="none" stroke="#808080" stroke-width="1.0"/>
<path d="M280.43,421.50v1.0M282.22,421.50v1.0M283.61,421.50v1.0M284.74,421.50v1.0M285.70,421.50v1.0M286.53,421.50v1.0M287.26,421.50v1.0M287.92,421.50v2.2M292.23,421.50v1.0M294.76,421.50v1.0M296.55,421.50v1.0M297.94,421.50v1.0M299.07,421.50v1.0M300.03,421.50v1.0M300.86,421.50v1.0M301.59,421.50v1.0M302.25,421.50v1.4M306.56,421.50v1.0M309.09,421.50v1.0M310.88,421.50v1.0M312.27,421.50v1.0M313.40,421.50v1.0M314.36,421.50v1.0M315.19,421.50v1.0M315.92,421.50v1.0M316.58,421.50v1.4M320.89,421.50v1.0M323.42,421.50v1.0M325.21,421.50v1.0M326.60,421.50v1.0M327.73,421.50v1.0M328.69,421.50v1.0M329.52,421.50v1.0M330.25,421.50v1.0M330.91,421.50v2.2M335.22,421.50v1.0M337.75,421.50v1.0M339.54,421.50v1.0M340.93,421.50v1.0M342.06,421.50v1.0M343.02,421.50v1.0M343.85,421.50v1.0M344.58,421.50v1.0M345.24,421.50v1.4M349.55,421.50v1.0M352.08,421.50v1.0M353.87,421.50v1.0M355.26,421.50v1.0M356.39,421.50v1.0M357.35,421.50v1.0M358.18,421.50v1.0M358.91,421.50v1.0M359.57,421.50v1.4M363.88,421.50v1.0M366.41,421.50v1.0M368.20,421.50v1.0M369.59,421.50v1.0M370.72,421.50v1.0M371.68,421.50v1.0M372.51,421.50v1.0M373.24,421.50v1.0M373.90,421.50v2.2M378.21,421.50v1.0M380.74,421.50v1.0M382.53,421.50v1.0M383.92,421.50v1.0M385.05,421.50v1.0M386.01,421.50v1.0M386.84,421.50v1.0M387.57,421.50v1.0M388.23,421.50v1.4M392.54,421.50v1.0M395.07,421.50v1.0M396.86,421.50v1.0M398.25,421.50v1.0M399.38,421.50v1.0M400.34,421.50v1.0M401.17,421.50v1.0M401.90,421.50v1.0M402.56,421.50v1.4M406.87,421.50v1.0M409.40,421.50v1.0M411.19,421.50v1.0M412.58,421.50v1.0M413.71,421.50v1.0M414.67,421.50v1.0M415.50,421.50v1.0M416.23,421.50v1.0M416.89,421.50v2.2M421.20,421.50v1.0M423.73,421.50v1.0M425.52,421.50v1.0M426.91,421.50v1.0M428.04,421.50v1.0M429.00,421.50v1.0M429.83,421.50v1.0M430.56,421.50v1.0M431.22,421.50v1.4M435.53,421.50v1.0M438.06,421.50v1.0M439.85,421.50v1.0M441.24,421.50v1.0M442.37,421.50v1.0M443.33,421.50v1.0M444.16,421.50v1.0M444.89,421.50v1.0M445.55,421.50v1.4M449.86,421.50v1.0M452.39,421.50v1.0M280.00,420.85h-2.2M280.00,415.25h-1.0M280.00,411.98h-1.0M280.00,409.65h-1.0M280.00,407.85h-1.0M280.00,406.38h-1.0M280.00,405.13h-1.0M280.00,404.05h-1.0M280.00,403.10h-1.0M280.00,402.25h-1.4M280.00,396.65h-1.0M280.00,393.38h-1.0M280.00,391.05h-1.0M280.00,389.25h-1.0M280.00,387.78h-1.0M280.00,386.53h-1.0M280.00,385.45h-1.0M280.00,384.50h-1.0M280.00,383.65h-2.2M280.00,378.05h-1.0M280.00,374.78h-1.0M280.00,372.45h-1.0M280.00,370.65h-1.0M280.00,369.18h-1.0M280.00,367.93h-1.0M280.00,366.85h-1.0M280.00,365.90h-1.0M280.00,365.05h-1.4M280.00,359.45h-1.0M280.00,356.18h-1.0M280.00,353.85h-1.0M280.00,352.05h-1.0M280.00,350.58h-1.0M280.00,349.33h-1.0M280.00,348.25h-1.0M280.00,347.30h-1.0M280.00,346.45h-2.2M280.00,340.85h-1.0M280.00,337.58h-1.0M280.00,335.25h-1.0M280.00,333.45h-1.0M280.00,331.98h-1.0M280.00,330.73h-1.0M280.00,329.65h-1.0M280.00,328.70h-1.0M280.00,327.85h-1.4M280.00,322.25h-1.0M280.00,318.98h-1.0M280.00,316.65h-1.0M280.00,314.85h-1.0M280.00,313.38h-1.0M280.00,312.13h-1.0M280.00,311.05h-1.0M280.00,310.10h-1.0" stroke="#808080" stroke-width="0.7" fill="none"/>
<text transform="translate(273.39,434.80) scale(0.9472,1)" style="font-family:'Liberation Sans', sans-serif;font-size:13.80px" fill="#000" stroke="#000" stroke-width="0.2">1</text><text transform="translate(281.51,434.86) scale(0.9878,1)" style="font-family:'Liberation Sans', sans-serif;font-size:13.92px" fill="#000" stroke="#000" stroke-width="0.2">0</text><rect x="290.44" y="426.73" width="5.71" height="0.80" fill="#000"/><text transform="translate(297.25,430.03) scale(1.0148,1)" style="font-family:'Liberation Sans', sans-serif;font-size:9.74px" fill="#000" stroke="#000" stroke-width="0.2">6</text>
<text transform="translate(316.38,434.80) scale(0.9472,1)" style="font-family:'Liberation Sans', sans-serif;font-size:13.80px" fill="#000" stroke="#000" stroke-width="0.2">1</text><text transform="translate(324.50,434.86) scale(0.9878,1)" style="font-family:'Liberation Sans', sans-serif;font-size:13.92px" fill="#000" stroke="#000" stroke-width="0.2">0</text><rect x="333.43" y="426.73" width="5.71" height="0.80" fill="#000"/><text transform="translate(340.43,430.03) scale(0.9487,1)" style="font-family:'Liberation Sans', sans-serif;font-size:9.74px" fill="#000" stroke="#000" stroke-width="0.2">3</text>
<text transform="translate(363.18,434.80) scale(0.9472,1)" style="font-family:'Liberation Sans', sans-serif;font-size:13.80px" fill="#000" stroke="#000" stroke-width="0.2">1</text><text transform="translate(371.30,434.86) scale(0.9878,1)" style="font-family:'Liberation Sans', sans-serif;font-size:13.92px" fill="#000" stroke="#000" stroke-width="0.2">0</text><text transform="translate(379.48,430.03) scale(0.9878,1)" style="font-family:'Liberation Sans', sans-serif;font-size:9.74px" fill="#000" stroke="#000" stroke-width="0.2">0</text>
<text transform="translate(406.17,434.80) scale(0.9472,1)" style="font-family:'Liberation Sans', sans-serif;font-size:13.80px" fill="#000" stroke="#000" stroke-width="0.2">1</text><text transform="translate(414.29,434.86) scale(0.9878,1)" style="font-family:'Liberation Sans', sans-serif;font-size:13.92px" fill="#000" stroke="#000" stroke-width="0.2">0</text><text transform="translate(422.60,430.03) scale(0.9487,1)" style="font-family:'Liberation Sans', sans-serif;font-size:9.74px" fill="#000" stroke="#000" stroke-width="0.2">3</text>
<text transform="translate(254.13,314.00) scale(0.9472,1)" style="font-family:'Liberation Sans', sans-serif;font-size:13.80px" fill="#000" stroke="#000" stroke-width="0.2">1</text><text transform="translate(262.25,314.05) scale(0.9878,1)" style="font-family:'Liberation Sans', sans-serif;font-size:13.92px" fill="#000" stroke="#000" stroke-width="0.2">0</text><text transform="translate(270.56,309.22) scale(0.9487,1)" style="font-family:'Liberation Sans', sans-serif;font-size:9.74px" fill="#000" stroke="#000" stroke-width="0.2">3</text>
<text transform="translate(254.25,351.19) scale(0.9472,1)" style="font-family:'Liberation Sans', sans-serif;font-size:13.80px" fill="#000" stroke="#000" stroke-width="0.2">1</text><text transform="translate(262.36,351.25) scale(0.9878,1)" style="font-family:'Liberation Sans', sans-serif;font-size:13.92px" fill="#000" stroke="#000" stroke-width="0.2">0</text><text transform="translate(270.66,346.38) scale(0.9472,1)" style="font-family:'Liberation Sans', sans-serif;font-size:9.66px" fill="#000" stroke="#000" stroke-width="0.2">1</text>
<text transform="translate(246.62,388.40) scale(0.9472,1)" style="font-family:'Liberation Sans', sans-serif;font-size:13.80px" fill="#000" stroke="#000" stroke-width="0.2">1</text><text transform="translate(254.74,388.45) scale(0.9878,1)" style="font-family:'Liberation Sans', sans-serif;font-size:13.92px" fill="#000" stroke="#000" stroke-width="0.2">0</text><rect x="263.67" y="380.33" width="5.71" height="0.80" fill="#000"/><text transform="translate(270.66,383.59) scale(0.9472,1)" style="font-family:'Liberation Sans', sans-serif;font-size:9.66px" fill="#000" stroke="#000" stroke-width="0.2">1</text>
<text transform="translate(246.51,425.60) scale(0.9472,1)" style="font-family:'Liberation Sans', sans-serif;font-size:13.80px" fill="#000" stroke="#000" stroke-width="0.2">1</text><text transform="translate(254.63,425.65) scale(0.9878,1)" style="font-family:'Liberation Sans', sans-serif;font-size:13.92px" fill="#000" stroke="#000" stroke-width="0.2">0</text><rect x="263.56" y="417.53" width="5.71" height="0.80" fill="#000"/><text transform="translate(270.56,420.82) scale(0.9487,1)" style="font-family:'Liberation Sans', sans-serif;font-size:9.74px" fill="#000" stroke="#000" stroke-width="0.2">3</text>
<text transform="translate(281.81,417.66) scale(1.1196,1)" style="font-family:'Liberation Serif', serif;font-size:23.54px;font-style:italic" fill="#111" stroke="#fff" stroke-width="0.12">a</text>
<path d="M302.20,409.30H318.60M302.20,414.20H318.60" stroke="#111" stroke-width="0.9"/>
<text transform="translate(325.80,417.90) scale(0.9961,1)" style="font-family:'Liberation Serif', serif;font-size:24.06px" fill="#111" stroke="#fff" stroke-width="0.12">0.5</text>
<text transform="translate(281.59,396.60) scale(0.9579,1)" x="-0.26 10.81 21.22 30.89 42.23 51.27" y="0" style="font-family:'Liberation Sans', sans-serif;font-size:16.45px" fill="#000" stroke="#000" stroke-width="0.2">SupALL</text>
<text transform="translate(424.39,323.53) scale(1.0953,1)" style="font-family:'Liberation Sans', sans-serif;font-size:14.80px;font-weight:bold" fill="#000" stroke="#000" stroke-width="0.55" stroke-linejoin="round">(</text><text transform="translate(431.05,324.58) scale(1.1086,1)" style="font-family:'Liberation Sans', sans-serif;font-size:16.25px;font-weight:bold" fill="#000" stroke="#000" stroke-width="0.55" stroke-linejoin="round">h</text><text transform="translate(443.38,323.53) scale(1.1050,1)" style="font-family:'Liberation Sans', sans-serif;font-size:14.80px;font-weight:bold" fill="#000" stroke="#000" stroke-width="0.55" stroke-linejoin="round">)</text>
<svg x="502.5" y="303.5" width="172.0" height="112.0" viewBox="502.5 303.5 172.0 112.0" overflow="hidden">
<g fill="none" stroke="#1f77b4" stroke-width="1.2"><circle cx="549.10" cy="342.60" r="3.10"/><circle cx="562.30" cy="346.50" r="3.10"/><circle cx="575.50" cy="355.70" r="3.10"/><circle cx="588.70" cy="364.90" r="3.10"/><circle cx="601.40" cy="373.10" r="3.10"/><circle cx="613.50" cy="380.40" r="3.10"/><circle cx="627.50" cy="388.50" r="3.10"/><circle cx="640.80" cy="395.80" r="3.10"/><circle cx="653.50" cy="403.10" r="3.10"/><circle cx="666.70" cy="409.80" r="3.10"/></g>
<g fill="none" stroke="#ff7f0e" stroke-width="1.15" stroke-linejoin="bevel"><polygon points="529.60,329.38 530.31,331.31 532.36,331.38 530.74,332.65 531.30,334.62 529.60,333.48 527.90,334.62 528.46,332.65 526.84,331.38 528.89,331.31"/><polygon points="543.80,331.58 544.51,333.51 546.56,333.58 544.94,334.85 545.50,336.82 543.80,335.68 542.10,336.82 542.66,334.85 541.04,333.58 543.09,333.51"/><polygon points="558.40,340.18 559.11,342.11 561.16,342.18 559.54,343.45 560.10,345.42 558.40,344.28 556.70,345.42 557.26,343.45 555.64,342.18 557.69,342.11"/><polygon points="572.40,350.88 573.11,352.81 575.16,352.88 573.54,354.15 574.10,356.12 572.40,354.98 570.70,356.12 571.26,354.15 569.64,352.88 571.69,352.81"/><polygon points="583.60,360.48 584.31,362.41 586.36,362.48 584.74,363.75 585.30,365.72 583.60,364.58 581.90,365.72 582.46,363.75 580.84,362.48 582.89,362.41"/><polygon points="598.10,369.58 598.81,371.51 600.86,371.58 599.24,372.85 599.80,374.82 598.10,373.68 596.40,374.82 596.96,372.85 595.34,371.58 597.39,371.51"/><polygon points="613.00,377.78 613.71,379.71 615.76,379.78 614.14,381.05 614.70,383.02 613.00,381.88 611.30,383.02 611.86,381.05 610.24,379.78 612.29,379.71"/><polygon points="627.30,385.88 628.01,387.81 630.06,387.88 628.44,389.15 629.00,391.12 627.30,389.98 625.60,391.12 626.16,389.15 624.54,387.88 626.59,387.81"/><polygon points="641.70,394.08 642.41,396.01 644.46,396.08 642.84,397.35 643.40,399.32 641.70,398.18 640.00,399.32 640.56,397.35 638.94,396.08 640.99,396.01"/><polygon points="654.00,400.98 654.71,402.91 656.76,402.98 655.14,404.25 655.70,406.22 654.00,405.08 652.30,406.22 652.86,404.25 651.24,402.98 653.29,402.91"/></g>
<g fill="none" stroke="#2ca02c" stroke-width="1.15"><rect x="506.90" y="318.50" width="6.20" height="6.20"/><rect x="521.50" y="318.50" width="6.20" height="6.20"/><rect x="536.40" y="327.50" width="6.20" height="6.20"/><rect x="551.40" y="338.10" width="6.20" height="6.20"/><rect x="565.50" y="349.20" width="6.20" height="6.20"/><rect x="580.10" y="359.40" width="6.20" height="6.20"/><rect x="595.00" y="369.10" width="6.20" height="6.20"/><rect x="609.90" y="377.30" width="6.20" height="6.20"/><rect x="624.40" y="385.40" width="6.20" height="6.20"/><rect x="638.60" y="393.60" width="6.20" height="6.20"/></g>
<line x1="549.1" y1="345.2" x2="665.3" y2="409.4" stroke="#000" stroke-width="1.95" stroke-dasharray="7.2 3.6"/>
<line x1="510.2" y1="308.6" x2="641.7" y2="406.7" stroke="#ff0000" stroke-width="2.35" stroke-dasharray="7.2 3.6"/>
</svg>
<rect x="502.5" y="303.5" width="172.00" height="112.00" fill="none" stroke="#808080" stroke-width="1.0"/>
<path d="M507.25,415.50v2.2M514.62,415.50v1.4M522.00,415.50v1.4M529.38,415.50v1.4M536.75,415.50v1.4M544.12,415.50v2.2M551.50,415.50v1.4M558.88,415.50v1.4M566.25,415.50v1.4M573.62,415.50v1.4M581.00,415.50v2.2M588.38,415.50v1.4M595.75,415.50v1.4M603.12,415.50v1.4M610.50,415.50v1.4M617.88,415.50v2.2M625.25,415.50v1.4M632.62,415.50v1.4M640.00,415.50v1.4M647.38,415.50v1.4M654.75,415.50v2.2M662.12,415.50v1.4M669.50,415.50v1.4M502.50,408.40h-1.4M502.50,397.50h-2.2M502.50,386.60h-1.4M502.50,375.70h-2.2M502.50,364.80h-1.4M502.50,353.90h-2.2M502.50,343.00h-1.4M502.50,332.10h-2.2M502.50,321.20h-1.4M502.50,310.30h-2.2" stroke="#808080" stroke-width="0.7" fill="none"/>
<text transform="translate(489.83,428.80) scale(0.9472,1)" style="font-family:'Liberation Sans', sans-serif;font-size:13.80px" fill="#000" stroke="#000" stroke-width="0.2">1</text><text transform="translate(497.94,428.86) scale(0.9878,1)" style="font-family:'Liberation Sans', sans-serif;font-size:13.92px" fill="#000" stroke="#000" stroke-width="0.2">0</text><rect x="506.87" y="420.73" width="5.71" height="0.80" fill="#000"/><text transform="translate(513.86,423.99) scale(0.9472,1)" style="font-family:'Liberation Sans', sans-serif;font-size:9.66px" fill="#000" stroke="#000" stroke-width="0.2">1</text><text transform="translate(519.54,424.03) scale(0.9878,1)" style="font-family:'Liberation Sans', sans-serif;font-size:9.74px" fill="#000" stroke="#000" stroke-width="0.2">0</text>
<text transform="translate(529.60,428.80) scale(0.9472,1)" style="font-family:'Liberation Sans', sans-serif;font-size:13.80px" fill="#000" stroke="#000" stroke-width="0.2">1</text><text transform="translate(537.71,428.86) scale(0.9878,1)" style="font-family:'Liberation Sans', sans-serif;font-size:13.92px" fill="#000" stroke="#000" stroke-width="0.2">0</text><rect x="546.64" y="420.73" width="5.71" height="0.80" fill="#000"/><text transform="translate(553.66,424.03) scale(0.9313,1)" style="font-family:'Liberation Sans', sans-serif;font-size:9.72px" fill="#000" stroke="#000" stroke-width="0.2">5</text>
<text transform="translate(570.28,428.80) scale(0.9472,1)" style="font-family:'Liberation Sans', sans-serif;font-size:13.80px" fill="#000" stroke="#000" stroke-width="0.2">1</text><text transform="translate(578.40,428.86) scale(0.9878,1)" style="font-family:'Liberation Sans', sans-serif;font-size:13.92px" fill="#000" stroke="#000" stroke-width="0.2">0</text><text transform="translate(586.58,424.03) scale(0.9878,1)" style="font-family:'Liberation Sans', sans-serif;font-size:9.74px" fill="#000" stroke="#000" stroke-width="0.2">0</text>
<text transform="translate(607.16,428.80) scale(0.9472,1)" style="font-family:'Liberation Sans', sans-serif;font-size:13.80px" fill="#000" stroke="#000" stroke-width="0.2">1</text><text transform="translate(615.28,428.86) scale(0.9878,1)" style="font-family:'Liberation Sans', sans-serif;font-size:13.92px" fill="#000" stroke="#000" stroke-width="0.2">0</text><text transform="translate(623.59,424.03) scale(0.9313,1)" style="font-family:'Liberation Sans', sans-serif;font-size:9.72px" fill="#000" stroke="#000" stroke-width="0.2">5</text>
<text transform="translate(641.14,428.80) scale(0.9472,1)" style="font-family:'Liberation Sans', sans-serif;font-size:13.80px" fill="#000" stroke="#000" stroke-width="0.2">1</text><text transform="translate(649.26,428.86) scale(0.9878,1)" style="font-family:'Liberation Sans', sans-serif;font-size:13.92px" fill="#000" stroke="#000" stroke-width="0.2">0</text><text transform="translate(657.55,423.99) scale(0.9472,1)" style="font-family:'Liberation Sans', sans-serif;font-size:9.66px" fill="#000" stroke="#000" stroke-width="0.2">1</text><text transform="translate(663.23,424.03) scale(0.9878,1)" style="font-family:'Liberation Sans', sans-serif;font-size:9.74px" fill="#000" stroke="#000" stroke-width="0.2">0</text>
<text transform="translate(476.70,315.05) scale(0.9472,1)" style="font-family:'Liberation Sans', sans-serif;font-size:13.80px" fill="#000" stroke="#000" stroke-width="0.2">1</text><text transform="translate(484.82,315.10) scale(0.9878,1)" style="font-family:'Liberation Sans', sans-serif;font-size:13.92px" fill="#000" stroke="#000" stroke-width="0.2">0</text><text transform="translate(493.14,310.27) scale(0.9313,1)" style="font-family:'Liberation Sans', sans-serif;font-size:9.72px" fill="#000" stroke="#000" stroke-width="0.2">5</text>
<text transform="translate(476.63,336.85) scale(0.9472,1)" style="font-family:'Liberation Sans', sans-serif;font-size:13.80px" fill="#000" stroke="#000" stroke-width="0.2">1</text><text transform="translate(484.75,336.90) scale(0.9878,1)" style="font-family:'Liberation Sans', sans-serif;font-size:13.92px" fill="#000" stroke="#000" stroke-width="0.2">0</text><text transform="translate(493.06,332.07) scale(0.9487,1)" style="font-family:'Liberation Sans', sans-serif;font-size:9.74px" fill="#000" stroke="#000" stroke-width="0.2">3</text>
<text transform="translate(476.75,358.65) scale(0.9472,1)" style="font-family:'Liberation Sans', sans-serif;font-size:13.80px" fill="#000" stroke="#000" stroke-width="0.2">1</text><text transform="translate(484.86,358.70) scale(0.9878,1)" style="font-family:'Liberation Sans', sans-serif;font-size:13.92px" fill="#000" stroke="#000" stroke-width="0.2">0</text><text transform="translate(493.16,353.84) scale(0.9472,1)" style="font-family:'Liberation Sans', sans-serif;font-size:9.66px" fill="#000" stroke="#000" stroke-width="0.2">1</text>
<text transform="translate(469.12,380.44) scale(0.9472,1)" style="font-family:'Liberation Sans', sans-serif;font-size:13.80px" fill="#000" stroke="#000" stroke-width="0.2">1</text><text transform="translate(477.24,380.50) scale(0.9878,1)" style="font-family:'Liberation Sans', sans-serif;font-size:13.92px" fill="#000" stroke="#000" stroke-width="0.2">0</text><rect x="486.17" y="372.38" width="5.71" height="0.80" fill="#000"/><text transform="translate(493.16,375.63) scale(0.9472,1)" style="font-family:'Liberation Sans', sans-serif;font-size:9.66px" fill="#000" stroke="#000" stroke-width="0.2">1</text>
<text transform="translate(469.01,402.25) scale(0.9472,1)" style="font-family:'Liberation Sans', sans-serif;font-size:13.80px" fill="#000" stroke="#000" stroke-width="0.2">1</text><text transform="translate(477.13,402.30) scale(0.9878,1)" style="font-family:'Liberation Sans', sans-serif;font-size:13.92px" fill="#000" stroke="#000" stroke-width="0.2">0</text><rect x="486.06" y="394.18" width="5.71" height="0.80" fill="#000"/><text transform="translate(493.06,397.47) scale(0.9487,1)" style="font-family:'Liberation Sans', sans-serif;font-size:9.74px" fill="#000" stroke="#000" stroke-width="0.2">3</text>
<text transform="translate(505.51,412.51) scale(1.1296,1)" style="font-family:'Liberation Serif', serif;font-size:18.31px;font-style:italic" fill="#111" stroke="#fff" stroke-width="0.12">β</text>
<path d="M522.40,406.00H535.20M522.40,410.30H535.20" stroke="#111" stroke-width="0.9"/>
<text transform="translate(541.22,412.80) scale(1.1850,1)" style="font-family:'Liberation Serif', serif;font-size:19.17px" fill="#111" stroke="#fff" stroke-width="0.12">3/4</text>
<text transform="translate(505.12,396.90) scale(0.9805,1)" x="0.13 8.38 20.57" y="0" style="font-family:'Liberation Sans', sans-serif;font-size:16.92px" fill="#000" stroke="#000" stroke-width="0.2">sBm</text>
<text transform="translate(648.39,323.53) scale(1.0939,1)" style="font-family:'Liberation Sans', sans-serif;font-size:14.80px;font-weight:bold" fill="#000" stroke="#000" stroke-width="0.55" stroke-linejoin="round">(</text><text transform="translate(654.89,324.58) scale(1.2417,1)" style="font-family:'Liberation Sans', sans-serif;font-size:16.25px;font-weight:bold" fill="#000" stroke="#000" stroke-width="0.55" stroke-linejoin="round">i</text><text transform="translate(661.59,323.53) scale(1.1037,1)" style="font-family:'Liberation Sans', sans-serif;font-size:14.80px;font-weight:bold" fill="#000" stroke="#000" stroke-width="0.55" stroke-linejoin="round">)</text>
<g transform="translate(12.10,80.60) rotate(-90)"><text transform="translate(-0.23,0.00) scale(1.0297,1)" style="font-family:'Liberation Sans', sans-serif;font-size:12.81px;font-style:italic" fill="#000" stroke="#000" stroke-width="0.15">n</text><text transform="translate(7.08,0.05) scale(0.8866,1)" style="font-family:'Liberation Sans', sans-serif;font-size:13.17px;font-style:italic" fill="#000" stroke="#000" stroke-width="0.15">S</text><text transform="translate(15.52,-0.84) scale(0.8869,1)" style="font-family:'Liberation Sans', sans-serif;font-size:11.74px" fill="#000" stroke="#000" stroke-width="0.15">(</text><text transform="translate(20.11,0.00) scale(1.0297,1)" style="font-family:'Liberation Sans', sans-serif;font-size:12.81px;font-style:italic" fill="#000" stroke="#000" stroke-width="0.15">n</text><text transform="translate(27.02,-0.19) scale(1.4267,1)" style="font-family:'Liberation Sans', sans-serif;font-size:12.56px" fill="#000" stroke="#000" stroke-width="0.15">,</text><text transform="translate(35.90,-0.13) scale(1.3134,1)" style="font-family:'Liberation Sans', sans-serif;font-size:12.53px;font-style:italic" fill="#000" stroke="#000" stroke-width="0.15">τ</text><text transform="translate(43.76,-0.84) scale(0.8869,1)" style="font-family:'Liberation Sans', sans-serif;font-size:11.74px" fill="#000" stroke="#000" stroke-width="0.15">)</text></g>
<g transform="translate(11.10,234.90) rotate(-90)"><text transform="translate(-0.23,0.00) scale(1.0363,1)" style="font-family:'Liberation Sans', sans-serif;font-size:12.81px;font-style:italic" fill="#000" stroke="#000" stroke-width="0.15">n</text><text transform="translate(7.13,0.05) scale(0.8923,1)" style="font-family:'Liberation Sans', sans-serif;font-size:13.17px;font-style:italic" fill="#000" stroke="#000" stroke-width="0.15">S</text><text transform="translate(15.62,-0.84) scale(0.8926,1)" style="font-family:'Liberation Sans', sans-serif;font-size:11.74px" fill="#000" stroke="#000" stroke-width="0.15">(</text><text transform="translate(20.24,0.00) scale(1.0363,1)" style="font-family:'Liberation Sans', sans-serif;font-size:12.81px;font-style:italic" fill="#000" stroke="#000" stroke-width="0.15">n</text><text transform="translate(27.19,-0.19) scale(1.4359,1)" style="font-family:'Liberation Sans', sans-serif;font-size:12.56px" fill="#000" stroke="#000" stroke-width="0.15">,</text><text transform="translate(36.13,-0.13) scale(1.3218,1)" style="font-family:'Liberation Sans', sans-serif;font-size:12.53px;font-style:italic" fill="#000" stroke="#000" stroke-width="0.15">τ</text><text transform="translate(44.04,-0.84) scale(0.8926,1)" style="font-family:'Liberation Sans', sans-serif;font-size:11.74px" fill="#000" stroke="#000" stroke-width="0.15">)</text></g>
<g transform="translate(11.10,385.90) rotate(-90)"><text transform="translate(-0.23,0.00) scale(1.0363,1)" style="font-family:'Liberation Sans', sans-serif;font-size:12.81px;font-style:italic" fill="#000" stroke="#000" stroke-width="0.15">n</text><text transform="translate(7.13,0.05) scale(0.8923,1)" style="font-family:'Liberation Sans', sans-serif;font-size:13.17px;font-style:italic" fill="#000" stroke="#000" stroke-width="0.15">S</text><text transform="translate(15.62,-0.84) scale(0.8926,1)" style="font-family:'Liberation Sans', sans-serif;font-size:11.74px" fill="#000" stroke="#000" stroke-width="0.15">(</text><text transform="translate(20.24,0.00) scale(1.0363,1)" style="font-family:'Liberation Sans', sans-serif;font-size:12.81px;font-style:italic" fill="#000" stroke="#000" stroke-width="0.15">n</text><text transform="translate(27.19,-0.19) scale(1.4359,1)" style="font-family:'Liberation Sans', sans-serif;font-size:12.56px" fill="#000" stroke="#000" stroke-width="0.15">,</text><text transform="translate(36.13,-0.13) scale(1.3218,1)" style="font-family:'Liberation Sans', sans-serif;font-size:12.53px;font-style:italic" fill="#000" stroke="#000" stroke-width="0.15">τ</text><text transform="translate(44.04,-0.84) scale(0.8926,1)" style="font-family:'Liberation Sans', sans-serif;font-size:11.74px" fill="#000" stroke="#000" stroke-width="0.15">)</text></g>
<text transform="translate(120.19,446.77) scale(1.2257,1)" style="font-family:'Liberation Sans', sans-serif;font-size:13.24px;font-style:italic" fill="#000" stroke="#000" stroke-width="0.15">τ</text><text transform="translate(127.05,447.96) scale(1.0111,1)" style="font-family:'Liberation Sans', sans-serif;font-size:14.55px" fill="#000" stroke="#000" stroke-width="0.15">/</text><text transform="translate(131.32,446.90) scale(0.9610,1)" style="font-family:'Liberation Sans', sans-serif;font-size:13.54px;font-style:italic" fill="#000" stroke="#000" stroke-width="0.15">n</text><text transform="translate(140.09,443.17) scale(0.9545,1)" style="font-family:'Liberation Sans', sans-serif;font-size:9.87px;font-style:italic" fill="#000" stroke="#000" stroke-width="0.15">d</text><text transform="translate(146.46,443.65) scale(0.9056,1)" style="font-family:'Liberation Sans', sans-serif;font-size:6.75px;font-style:italic" fill="#000" stroke="#000" stroke-width="0.15">w</text>
<text transform="translate(350.39,449.37) scale(1.2337,1)" style="font-family:'Liberation Sans', sans-serif;font-size:13.24px;font-style:italic" fill="#000" stroke="#000" stroke-width="0.15">τ</text><text transform="translate(357.29,450.56) scale(1.0178,1)" style="font-family:'Liberation Sans', sans-serif;font-size:14.55px" fill="#000" stroke="#000" stroke-width="0.15">/</text><text transform="translate(361.59,449.50) scale(0.9673,1)" style="font-family:'Liberation Sans', sans-serif;font-size:13.54px;font-style:italic" fill="#000" stroke="#000" stroke-width="0.15">n</text><text transform="translate(370.42,445.77) scale(0.9608,1)" style="font-family:'Liberation Sans', sans-serif;font-size:9.87px;font-style:italic" fill="#000" stroke="#000" stroke-width="0.15">d</text><text transform="translate(376.83,446.25) scale(0.9116,1)" style="font-family:'Liberation Sans', sans-serif;font-size:6.75px;font-style:italic" fill="#000" stroke="#000" stroke-width="0.15">w</text>
<text transform="translate(571.68,442.47) scale(1.2418,1)" style="font-family:'Liberation Sans', sans-serif;font-size:13.24px;font-style:italic" fill="#000" stroke="#000" stroke-width="0.15">τ</text><text transform="translate(578.64,443.66) scale(1.0244,1)" style="font-family:'Liberation Sans', sans-serif;font-size:14.55px" fill="#000" stroke="#000" stroke-width="0.15">/</text><text transform="translate(582.96,442.60) scale(0.9736,1)" style="font-family:'Liberation Sans', sans-serif;font-size:13.54px;font-style:italic" fill="#000" stroke="#000" stroke-width="0.15">n</text><text transform="translate(591.84,438.87) scale(0.9671,1)" style="font-family:'Liberation Sans', sans-serif;font-size:9.87px;font-style:italic" fill="#000" stroke="#000" stroke-width="0.15">d</text><text transform="translate(598.30,439.35) scale(0.9175,1)" style="font-family:'Liberation Sans', sans-serif;font-size:6.75px;font-style:italic" fill="#000" stroke="#000" stroke-width="0.15">w</text>
</svg>
</body></html>
